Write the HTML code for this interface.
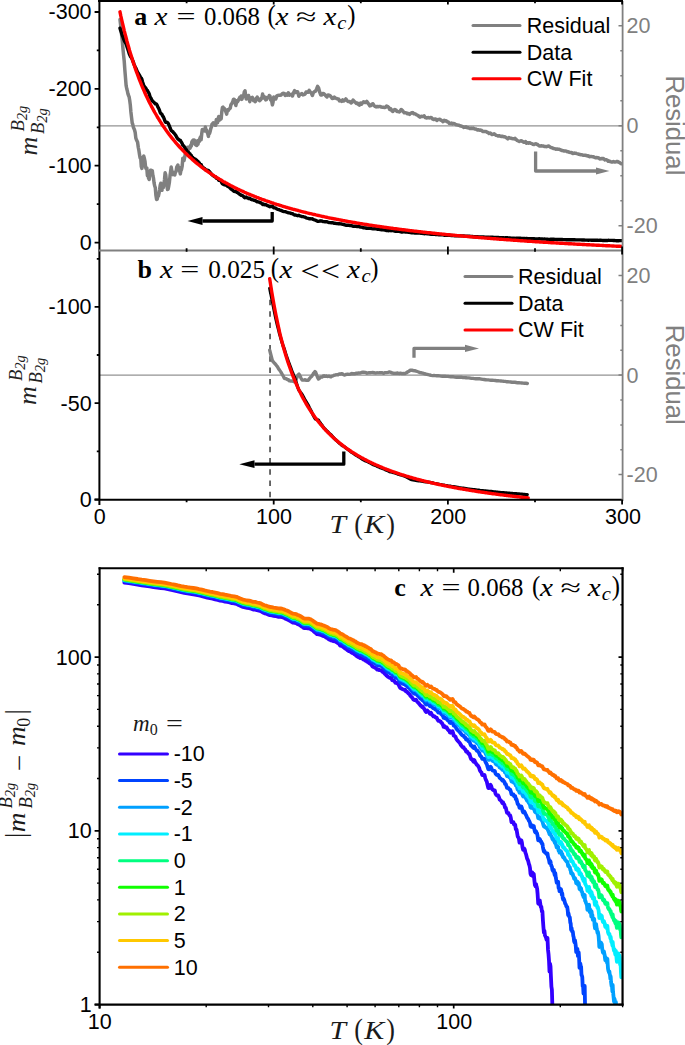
<!DOCTYPE html>
<html lang="en"><head><meta charset="utf-8"><title>Figure</title>
<style>html,body{margin:0;padding:0;background:#fff}svg{display:block}</style></head>
<body>
<svg width="685" height="1045" viewBox="0 0 685 1045">
<rect width="685" height="1045" fill="#fff"/>
<defs><clipPath id="ca"><rect x="99" y="0" width="524" height="251"/></clipPath><clipPath id="cb"><rect x="99" y="250" width="524" height="250"/></clipPath><clipPath id="cc"><rect x="99" y="568" width="524" height="437"/></clipPath></defs>
<g clip-path="url(#ca)" fill="none" stroke-linejoin="round" stroke-linecap="round">
<path d="M99,125.8 H623" stroke="#808080" stroke-width="1.3" opacity="0.85"/>
<path d="M120.0,19.6 L120.6,24.8 L121.2,30.5 L121.8,36.5 L122.4,42.0 L123.0,49.1 L123.6,55.4 L124.2,60.9 L124.8,69.4 L125.5,77.9 L126.1,85.4 L126.7,88.5 L127.3,90.7 L127.9,93.6 L128.5,95.5 L129.1,96.8 L129.7,100.2 L130.3,104.9 L130.9,112.0 L131.6,117.9 L132.2,123.0 L132.8,124.5 L133.4,127.5 L134.0,128.6 L134.6,130.2 L135.2,132.5 L135.8,137.9 L136.4,139.7 L137.0,140.9 L137.6,142.3 L138.3,147.5 L138.9,150.4 L139.5,154.4 L140.1,157.9 L140.7,157.6 L141.3,166.5 L141.9,168.4 L142.5,161.9 L143.1,159.9 L143.7,155.9 L144.4,158.5 L145.0,161.3 L145.6,167.4 L146.2,169.0 L146.8,168.0 L147.4,175.5 L148.0,175.4 L148.6,178.3 L149.2,179.5 L149.8,172.3 L150.5,170.2 L151.1,172.9 L151.7,170.6 L152.3,170.7 L152.9,175.7 L153.5,178.2 L154.1,183.1 L154.7,186.0 L155.3,187.6 L155.9,195.3 L156.6,199.5 L157.2,199.2 L157.8,195.9 L158.4,196.0 L159.0,193.4 L159.6,189.8 L160.2,185.3 L160.8,183.3 L161.4,188.4 L162.0,190.3 L162.6,185.8 L163.3,187.7 L163.9,184.0 L164.5,179.7 L165.1,172.8 L165.7,174.5 L166.3,180.1 L166.9,185.1 L167.5,189.4 L168.1,189.1 L168.7,186.3 L169.4,182.2 L170.0,176.1 L170.6,171.5 L171.2,166.9 L171.8,170.7 L172.4,171.9 L173.0,174.6 L173.6,173.3 L174.2,174.6 L174.8,174.9 L175.5,171.8 L176.1,171.5 L176.7,167.2 L177.3,166.3 L177.9,165.1 L178.5,169.0 L179.1,167.3 L179.7,171.1 L180.3,173.9 L180.9,170.5 L181.5,169.5 L182.2,165.8 L182.8,158.2 L183.4,160.5 L184.0,160.6 L184.6,157.7 L185.2,154.5 L185.8,153.5 L186.4,152.2 L187.0,149.1 L187.6,147.4 L188.3,149.7 L188.9,148.3 L189.5,146.8 L190.1,148.1 L190.7,145.3 L191.3,146.1 L191.9,141.8 L192.5,140.9 L193.1,140.2 L193.7,141.1 L194.4,140.2 L195.0,144.2 L195.6,144.8 L196.2,141.5 L196.8,145.6 L197.4,140.8 L198.0,144.2 L198.6,140.2 L199.2,141.7 L199.8,138.7 L200.4,137.1 L201.1,139.7 L201.7,134.0 L202.3,129.6 L202.9,130.1 L203.5,130.4 L204.1,129.8 L204.7,130.9 L205.3,126.9 L205.9,129.4 L206.5,130.0 L207.2,132.4 L207.8,133.8 L208.4,136.4 L209.0,132.3 L209.6,133.4 L210.2,131.2 L210.8,128.5 L211.4,127.1 L212.0,124.1 L212.6,123.7 L213.3,122.7 L213.9,123.0 L214.5,122.9 L215.1,125.2 L215.7,125.2 L216.3,119.6 L216.9,121.1 L217.5,122.7 L218.1,120.4 L218.7,116.4 L219.3,120.2 L220.0,119.6 L220.6,119.1 L221.2,118.7 L221.8,111.7 L222.4,107.7 L223.0,107.2 L223.6,109.3 L224.2,108.2 L224.8,109.9 L225.4,110.4 L226.1,112.5 L226.7,114.1 L227.3,109.7 L227.9,111.0 L228.5,110.2 L229.1,109.2 L229.7,108.7 L230.3,108.0 L230.9,104.7 L231.5,104.1 L232.2,102.8 L232.8,101.7 L233.4,99.4 L234.0,99.2 L234.6,99.9 L235.2,102.3 L235.8,105.5 L236.4,102.8 L237.0,100.9 L237.6,101.6 L238.3,100.4 L238.9,99.1 L239.5,98.0 L240.1,97.0 L240.7,98.9 L241.3,96.0 L241.9,99.4 L242.5,97.2 L243.1,96.4 L243.7,95.0 L244.3,92.0 L245.0,90.8 L245.6,95.3 L246.2,99.0 L246.8,96.5 L247.4,98.4 L248.0,97.6 L248.6,95.5 L249.2,98.9 L249.8,101.7 L250.4,99.1 L251.1,98.0 L251.7,97.8 L252.3,97.3 L252.9,98.6 L253.5,100.6 L254.1,99.3 L254.7,100.1 L255.3,101.7 L255.9,98.9 L256.5,98.3 L257.2,97.1 L257.8,98.9 L258.4,99.3 L259.0,100.3 L259.6,100.6 L260.2,99.0 L260.8,99.7 L261.4,98.2 L262.0,97.4 L262.6,94.0 L263.2,97.9 L263.9,96.3 L264.5,97.1 L265.1,97.4 L265.7,99.9 L266.3,99.7 L266.9,97.5 L267.5,97.5 L268.1,97.3 L268.7,97.7 L269.3,95.5 L270.0,96.1 L270.6,100.0 L271.2,99.8 L271.8,101.7 L272.4,104.9 L273.0,102.4 L273.6,97.8 L273.7,97.1 L274.7,98.6 L275.8,99.0 L276.8,95.8 L277.9,95.4 L278.9,95.3 L280.0,95.3 L281.0,95.1 L282.1,93.8 L283.1,93.3 L284.2,93.4 L285.2,95.4 L286.2,94.1 L287.3,95.1 L288.3,92.9 L289.4,95.1 L290.4,94.7 L291.5,94.3 L292.5,96.0 L293.6,92.5 L294.6,90.7 L295.6,92.5 L296.7,91.7 L297.7,91.8 L298.8,96.2 L299.8,94.6 L300.9,94.1 L301.9,93.6 L303.0,94.9 L304.0,94.5 L305.1,94.1 L306.1,92.0 L307.1,91.9 L308.2,92.3 L309.2,90.4 L310.3,92.1 L311.3,93.0 L312.4,95.5 L313.4,92.5 L314.5,91.6 L315.5,91.1 L316.6,89.0 L317.6,86.4 L318.6,88.0 L319.7,92.2 L320.7,94.9 L321.8,95.0 L322.8,93.4 L323.9,93.7 L324.9,94.7 L326.0,96.0 L327.0,97.0 L328.1,94.9 L329.1,95.1 L330.1,95.8 L331.2,96.9 L332.2,98.5 L333.3,98.3 L334.3,97.1 L335.4,98.0 L336.4,98.5 L337.5,98.9 L338.5,98.9 L339.5,100.9 L340.6,100.7 L341.6,101.4 L342.7,99.9 L343.7,101.0 L344.8,100.3 L345.8,98.9 L346.9,100.3 L347.9,101.5 L349.0,101.5 L350.0,101.8 L351.0,103.0 L352.1,102.2 L353.1,100.1 L354.2,101.4 L355.2,102.1 L356.3,103.5 L357.3,103.0 L358.4,104.3 L359.4,105.1 L360.5,103.1 L361.5,104.2 L362.5,102.9 L363.6,101.7 L364.6,102.4 L365.7,102.5 L366.7,101.4 L367.8,102.9 L368.8,104.3 L369.9,105.9 L370.9,105.6 L371.9,104.1 L373.0,103.8 L374.0,105.5 L375.1,106.5 L376.1,106.9 L377.2,106.4 L378.2,106.7 L379.3,106.6 L380.3,106.5 L381.4,107.1 L382.4,107.3 L383.4,107.2 L384.5,107.6 L385.5,107.3 L386.6,106.0 L387.6,106.5 L388.7,107.3 L389.7,109.4 L390.8,108.9 L391.8,110.8 L392.9,111.5 L393.9,110.1 L394.9,109.5 L396.0,110.0 L397.0,111.6 L398.1,111.6 L399.1,111.9 L400.2,111.2 L401.2,109.5 L402.3,110.3 L403.3,111.6 L404.3,112.8 L405.4,112.7 L406.4,112.9 L407.5,113.8 L408.5,113.5 L409.6,114.4 L410.6,113.3 L411.7,112.8 L412.7,112.6 L413.8,113.7 L414.8,113.7 L415.8,114.3 L416.9,115.0 L417.9,115.4 L419.0,116.4 L420.0,117.2 L421.1,116.3 L422.1,116.5 L423.2,116.4 L424.2,115.9 L425.3,117.6 L426.3,118.0 L427.3,117.7 L428.4,117.6 L429.4,118.0 L430.5,117.5 L431.5,117.8 L432.6,119.0 L433.6,119.6 L434.7,119.0 L435.7,119.0 L436.8,120.5 L437.8,119.6 L438.8,119.6 L439.9,119.2 L440.9,120.1 L442.0,120.7 L443.0,121.6 L444.1,120.3 L445.1,121.0 L446.2,120.7 L447.2,121.7 L448.2,122.0 L449.3,123.3 L450.3,123.5 L451.4,123.0 L452.4,123.9 L453.5,123.4 L454.5,123.6 L455.6,124.5 L456.6,124.8 L457.7,125.1 L458.7,125.2 L459.7,125.6 L460.8,126.1 L461.8,126.2 L462.9,126.8 L463.9,127.4 L465.0,127.2 L466.0,126.7 L467.1,127.7 L468.1,127.7 L469.2,128.1 L470.2,128.6 L471.2,128.1 L472.3,128.6 L473.3,128.0 L474.4,128.9 L475.4,128.9 L476.5,129.4 L477.5,130.0 L478.6,129.8 L479.6,130.2 L480.6,130.1 L481.7,130.5 L482.7,131.4 L483.8,131.5 L484.8,131.6 L485.9,131.4 L486.9,132.2 L488.0,132.4 L489.0,133.5 L490.1,133.0 L491.1,133.7 L492.1,134.6 L493.2,134.4 L494.2,133.8 L495.3,134.8 L496.3,135.4 L497.4,135.6 L498.4,136.1 L499.5,135.7 L500.5,136.2 L501.6,136.5 L502.6,136.2 L503.6,136.8 L504.7,136.7 L505.7,137.4 L506.8,138.0 L507.8,138.8 L508.9,137.6 L509.9,138.1 L511.0,138.2 L512.0,138.5 L513.1,138.7 L514.1,138.9 L515.1,138.4 L516.2,139.5 L517.2,140.5 L518.3,141.0 L519.3,141.5 L520.4,141.0 L521.4,140.7 L522.5,141.4 L523.5,142.2 L524.5,142.2 L525.6,141.6 L526.6,143.2 L527.7,142.7 L528.7,143.2 L529.8,142.7 L530.8,143.4 L531.9,143.6 L532.9,144.3 L534.0,144.6 L535.0,143.9 L536.0,143.8 L537.1,144.3 L538.1,145.0 L539.2,145.9 L540.2,145.9 L541.3,145.8 L542.3,145.9 L543.4,146.0 L544.4,146.6 L545.5,146.6 L546.5,146.7 L547.5,146.3 L548.6,145.9 L549.6,146.6 L550.7,147.4 L551.7,147.7 L552.8,148.1 L553.8,148.6 L554.9,148.7 L555.9,149.2 L556.9,148.9 L558.0,149.2 L559.0,149.3 L560.1,149.6 L561.1,150.1 L562.2,150.6 L563.2,150.7 L564.3,151.0 L565.3,150.9 L566.4,151.1 L567.4,151.8 L568.4,151.8 L569.5,152.4 L570.5,152.6 L571.6,152.6 L572.6,153.5 L573.7,153.2 L574.7,153.1 L575.8,153.3 L576.8,153.6 L577.9,153.9 L578.9,154.3 L579.9,154.5 L581.0,154.7 L582.0,154.7 L583.1,155.3 L584.1,155.2 L585.2,155.3 L586.2,155.5 L587.3,155.9 L588.3,155.8 L589.4,156.7 L590.4,156.5 L591.4,156.6 L592.5,156.7 L593.5,156.8 L594.6,157.4 L595.6,157.7 L596.7,157.6 L597.7,157.7 L598.8,158.0 L599.8,158.9 L600.8,158.8 L601.9,158.5 L602.9,158.5 L604.0,158.9 L605.0,159.9 L606.1,159.7 L607.1,160.1 L608.2,161.2 L609.2,161.0 L610.3,161.6 L611.3,162.0 L612.3,162.1 L613.4,161.5 L614.4,161.9 L615.5,162.0 L616.5,161.6 L617.6,161.5 L618.6,162.2 L619.7,162.7 L620.7,163.5 L621.8,163.8" stroke="#808080" stroke-width="3.5"/>
<path d="M120.0,28.2 L120.6,30.2 L121.2,32.1 L121.8,33.9 L122.4,35.7 L123.0,37.2 L123.6,38.8 L124.2,40.5 L124.8,41.6 L125.5,42.7 L126.1,43.9 L126.7,45.7 L127.3,47.7 L127.9,49.4 L128.5,51.3 L129.1,53.3 L129.7,54.8 L130.3,56.2 L130.9,57.1 L131.6,58.1 L132.2,59.3 L132.8,61.0 L133.4,62.4 L134.0,64.1 L134.6,65.6 L135.2,67.1 L135.8,68.0 L136.4,69.4 L137.0,70.9 L137.6,72.4 L138.3,73.2 L138.9,74.4 L139.5,75.3 L140.1,76.4 L140.7,77.9 L141.3,78.1 L141.9,79.3 L142.5,81.7 L143.1,83.5 L143.7,85.5 L144.4,86.5 L145.0,87.4 L145.6,87.9 L146.2,88.9 L146.8,90.4 L147.4,90.5 L148.0,91.8 L148.6,92.6 L149.2,93.7 L149.8,96.0 L150.5,97.6 L151.1,98.3 L151.7,99.8 L152.3,101.0 L152.9,101.3 L153.5,102.1 L154.1,102.4 L154.7,103.1 L155.3,103.9 L155.9,103.8 L156.6,104.2 L157.2,105.3 L157.8,106.8 L158.4,107.8 L159.0,109.2 L159.6,110.7 L160.2,112.4 L160.8,113.6 L161.4,113.8 L162.0,114.4 L162.6,116.0 L163.3,116.7 L163.9,118.1 L164.5,119.7 L165.1,121.6 L165.7,122.2 L166.3,122.2 L166.9,122.3 L167.5,122.5 L168.1,123.3 L168.7,124.6 L169.4,126.0 L170.0,127.7 L170.6,129.2 L171.2,130.7 L171.8,130.9 L172.4,131.5 L173.0,131.8 L173.6,132.8 L174.2,133.3 L174.8,134.0 L175.5,135.2 L176.1,135.9 L176.7,137.3 L177.3,138.1 L177.9,139.0 L178.5,139.1 L179.1,140.0 L179.7,140.1 L180.3,140.3 L180.9,141.5 L181.5,142.3 L182.2,143.5 L182.8,145.3 L183.4,145.6 L184.0,146.2 L184.6,147.3 L185.2,148.4 L185.8,149.1 L186.4,149.9 L187.0,151.0 L187.6,151.8 L188.3,152.1 L188.9,152.8 L189.5,153.6 L190.1,154.0 L190.7,155.0 L191.3,155.4 L191.9,156.6 L192.5,157.3 L193.1,157.9 L193.7,158.3 L194.4,159.0 L195.0,158.9 L195.6,159.3 L196.2,160.3 L196.8,160.2 L197.4,161.4 L198.0,161.4 L198.6,162.5 L199.2,162.8 L199.8,163.7 L200.4,164.5 L201.1,164.5 L201.7,165.9 L202.3,167.0 L202.9,167.4 L203.5,167.8 L204.1,168.4 L204.7,168.6 L205.3,169.7 L205.9,169.8 L206.5,170.1 L207.2,170.2 L207.8,170.4 L208.4,170.4 L209.0,171.5 L209.6,171.7 L210.2,172.5 L210.8,173.3 L211.4,173.9 L212.0,174.8 L212.6,175.2 L213.3,175.8 L213.9,176.2 L214.5,176.6 L215.1,176.6 L215.7,177.0 L216.3,178.2 L216.9,178.4 L217.5,178.5 L218.1,179.2 L218.7,180.2 L219.3,180.0 L220.0,180.5 L220.6,180.9 L221.2,181.3 L221.8,182.8 L222.4,183.7 L223.0,184.2 L223.6,184.2 L224.2,184.7 L224.8,184.8 L225.4,185.1 L226.1,185.1 L226.7,185.2 L227.3,186.2 L227.9,186.3 L228.5,186.7 L229.1,187.2 L229.7,187.6 L230.3,188.1 L230.9,188.9 L231.5,189.3 L232.2,189.8 L232.8,190.3 L233.4,190.9 L234.0,191.3 L234.6,191.5 L235.2,191.4 L235.8,191.2 L236.4,191.9 L237.0,192.5 L237.6,192.7 L238.3,193.2 L238.9,193.7 L239.5,194.1 L240.1,194.6 L240.7,194.6 L241.3,195.3 L241.9,195.1 L242.5,195.7 L243.1,196.1 L243.7,196.6 L244.3,197.3 L245.0,197.8 L245.6,197.3 L246.2,197.0 L246.8,197.7 L247.4,197.7 L248.0,198.0 L248.6,198.6 L249.2,198.4 L249.8,198.2 L250.4,198.8 L251.1,199.3 L251.7,199.5 L252.3,199.9 L252.9,199.9 L253.5,199.9 L254.1,200.3 L254.7,200.4 L255.3,200.4 L255.9,201.1 L256.5,201.4 L257.2,201.9 L257.8,201.8 L258.4,202.0 L259.0,202.1 L259.6,202.2 L260.2,202.7 L260.8,202.8 L261.4,203.3 L262.0,203.7 L262.6,204.4 L263.2,204.0 L263.9,204.5 L264.5,204.6 L265.1,204.8 L265.7,204.6 L266.3,204.8 L266.9,205.4 L267.5,205.6 L268.1,205.9 L268.7,206.0 L269.3,206.6 L270.0,206.7 L270.6,206.3 L271.2,206.5 L271.8,206.4 L272.4,206.1 L273.0,206.7 L273.6,207.6 L273.7,207.8 L274.7,207.9 L275.8,208.2 L276.8,209.0 L277.9,209.4 L278.9,209.7 L280.0,210.1 L281.0,210.4 L282.1,210.9 L283.1,211.3 L284.2,211.6 L285.2,211.6 L286.2,212.1 L287.3,212.3 L288.3,212.9 L289.4,212.9 L290.4,213.2 L291.5,213.6 L292.5,213.6 L293.6,214.5 L294.6,215.0 L295.6,215.0 L296.7,215.4 L297.7,215.7 L298.8,215.3 L299.8,215.8 L300.9,216.2 L301.9,216.5 L303.0,216.6 L304.0,216.9 L305.1,217.2 L306.1,217.8 L307.1,218.1 L308.2,218.3 L309.2,218.8 L310.3,218.8 L311.3,218.9 L312.4,218.8 L313.4,219.5 L314.5,219.9 L315.5,220.2 L316.6,220.8 L317.6,221.4 L318.6,221.4 L319.7,221.0 L320.7,220.8 L321.8,221.0 L322.8,221.5 L323.9,221.6 L324.9,221.7 L326.0,221.7 L327.0,221.8 L328.1,222.3 L329.1,222.5 L330.1,222.6 L331.2,222.7 L332.2,222.6 L333.3,222.9 L334.3,223.3 L335.4,223.3 L336.4,223.5 L337.5,223.6 L338.5,223.8 L339.5,223.7 L340.6,223.9 L341.6,224.0 L342.7,224.4 L343.7,224.5 L344.8,224.8 L345.8,225.2 L346.9,225.2 L347.9,225.2 L349.0,225.3 L350.0,225.5 L351.0,225.5 L352.1,225.8 L353.1,226.3 L354.2,226.3 L355.2,226.3 L356.3,226.3 L357.3,226.6 L358.4,226.5 L359.4,226.6 L360.5,227.1 L361.5,227.1 L362.5,227.4 L363.6,227.8 L364.6,227.9 L365.7,228.0 L366.7,228.3 L367.8,228.3 L368.8,228.2 L369.9,228.1 L370.9,228.3 L371.9,228.7 L373.0,228.9 L374.0,228.8 L375.1,228.8 L376.1,228.9 L377.2,229.2 L378.2,229.3 L379.3,229.4 L380.3,229.6 L381.4,229.7 L382.4,229.8 L383.4,229.9 L384.5,230.0 L385.5,230.2 L386.6,230.6 L387.6,230.6 L388.7,230.7 L389.7,230.5 L390.8,230.7 L391.8,230.6 L392.9,230.6 L393.9,230.9 L394.9,231.2 L396.0,231.2 L397.0,231.1 L398.1,231.3 L399.1,231.3 L400.2,231.6 L401.2,232.0 L402.3,232.0 L403.3,231.9 L404.3,231.9 L405.4,232.0 L406.4,232.1 L407.5,232.1 L408.5,232.3 L409.6,232.3 L410.6,232.6 L411.7,232.8 L412.7,232.9 L413.8,232.9 L414.8,233.0 L415.8,233.0 L416.9,233.0 L417.9,233.1 L419.0,233.1 L420.0,233.1 L421.1,233.3 L422.1,233.4 L423.2,233.5 L424.2,233.7 L425.3,233.6 L426.3,233.6 L427.3,233.8 L428.4,233.9 L429.4,234.0 L430.5,234.2 L431.5,234.2 L432.6,234.2 L433.6,234.2 L434.7,234.4 L435.7,234.5 L436.8,234.4 L437.8,234.6 L438.8,234.7 L439.9,234.9 L440.9,234.9 L442.0,234.9 L443.0,234.8 L444.1,235.2 L445.1,235.1 L446.2,235.3 L447.2,235.2 L448.2,235.3 L449.3,235.2 L450.3,235.3 L451.4,235.5 L452.4,235.4 L453.5,235.6 L454.5,235.7 L455.6,235.6 L456.6,235.7 L457.7,235.7 L458.7,235.8 L459.7,235.8 L460.8,235.9 L461.8,235.9 L462.9,235.9 L463.9,236.0 L465.0,236.1 L466.0,236.2 L467.1,236.2 L468.1,236.3 L469.2,236.3 L470.2,236.3 L471.2,236.5 L472.3,236.5 L473.3,236.7 L474.4,236.6 L475.4,236.7 L476.5,236.7 L477.5,236.7 L478.6,236.9 L479.6,236.9 L480.6,237.0 L481.7,237.0 L482.7,237.0 L483.8,237.0 L484.8,237.1 L485.9,237.2 L486.9,237.2 L488.0,237.2 L489.0,237.1 L490.1,237.3 L491.1,237.3 L492.1,237.2 L493.2,237.3 L494.2,237.5 L495.3,237.4 L496.3,237.4 L497.4,237.5 L498.4,237.5 L499.5,237.6 L500.5,237.6 L501.6,237.7 L502.6,237.8 L503.6,237.8 L504.7,237.9 L505.7,237.8 L506.8,237.8 L507.8,237.8 L508.9,238.0 L509.9,238.0 L511.0,238.1 L512.0,238.1 L513.1,238.2 L514.1,238.2 L515.1,238.4 L516.2,238.3 L517.2,238.2 L518.3,238.2 L519.3,238.2 L520.4,238.3 L521.4,238.4 L522.5,238.4 L523.5,238.4 L524.5,238.4 L525.6,238.6 L526.6,238.4 L527.7,238.6 L528.7,238.6 L529.8,238.7 L530.8,238.7 L531.9,238.7 L532.9,238.7 L534.0,238.7 L535.0,238.9 L536.0,239.0 L537.1,238.9 L538.1,238.9 L539.2,238.8 L540.2,238.9 L541.3,239.0 L542.3,239.0 L543.4,239.1 L544.4,239.0 L545.5,239.1 L546.5,239.2 L547.5,239.3 L548.6,239.4 L549.6,239.4 L550.7,239.3 L551.7,239.3 L552.8,239.3 L553.8,239.3 L554.9,239.4 L555.9,239.4 L556.9,239.5 L558.0,239.5 L559.0,239.5 L560.1,239.5 L561.1,239.5 L562.2,239.5 L563.2,239.6 L564.3,239.6 L565.3,239.6 L566.4,239.7 L567.4,239.6 L568.4,239.7 L569.5,239.7 L570.5,239.7 L571.6,239.7 L572.6,239.7 L573.7,239.8 L574.7,239.8 L575.8,239.9 L576.8,239.9 L577.9,239.9 L578.9,239.9 L579.9,239.9 L581.0,239.9 L582.0,240.0 L583.1,239.9 L584.1,240.0 L585.2,240.1 L586.2,240.1 L587.3,240.1 L588.3,240.2 L589.4,240.1 L590.4,240.1 L591.4,240.2 L592.5,240.2 L593.5,240.3 L594.6,240.2 L595.6,240.2 L596.7,240.3 L597.7,240.3 L598.8,240.4 L599.8,240.3 L600.8,240.3 L601.9,240.4 L602.9,240.5 L604.0,240.5 L605.0,240.4 L606.1,240.5 L607.1,240.5 L608.2,240.3 L609.2,240.4 L610.3,240.4 L611.3,240.4 L612.3,240.4 L613.4,240.5 L614.4,240.5 L615.5,240.6 L616.5,240.7 L617.6,240.7 L618.6,240.7 L619.7,240.6 L620.7,240.6 L621.8,240.6" stroke="#000" stroke-width="3.4"/>
<path d="M120.0,11.8 L120.8,15.9 L121.7,19.8 L122.6,23.6 L123.5,27.3 L124.3,30.8 L125.2,34.3 L126.1,37.7 L126.9,41.0 L127.8,44.2 L128.7,47.3 L129.5,50.3 L130.4,53.2 L131.3,56.1 L132.2,58.9 L133.0,61.6 L133.9,64.2 L134.8,66.8 L135.6,69.4 L136.5,71.8 L137.4,74.2 L138.3,76.6 L139.1,78.8 L140.0,81.1 L140.9,83.3 L141.7,85.4 L142.6,87.5 L143.5,89.5 L144.4,91.5 L145.2,93.5 L146.1,95.4 L147.0,97.3 L147.8,99.1 L148.7,100.9 L149.6,102.7 L150.5,104.4 L151.3,106.1 L152.2,107.7 L153.1,109.3 L153.9,110.9 L154.8,112.5 L155.7,114.0 L156.6,115.5 L157.4,117.0 L158.3,118.4 L159.2,119.8 L160.0,121.2 L160.9,122.6 L161.8,124.0 L162.6,125.3 L163.5,126.6 L164.4,127.8 L165.3,129.1 L166.1,130.3 L167.0,131.5 L167.9,132.7 L168.7,133.9 L169.6,135.0 L170.5,136.2 L171.4,137.3 L172.2,138.4 L173.1,139.4 L174.0,140.5 L174.8,141.5 L175.7,142.6 L176.6,143.6 L177.5,144.6 L178.3,145.5 L179.2,146.5 L180.1,147.5 L180.9,148.4 L181.8,149.3 L182.7,150.2 L183.6,151.1 L184.4,152.0 L185.3,152.9 L186.2,153.7 L187.0,154.6 L187.9,155.4 L188.8,156.2 L189.6,157.0 L190.5,157.8 L191.4,158.6 L192.3,159.4 L193.1,160.2 L194.0,160.9 L194.9,161.7 L195.7,162.4 L196.6,163.1 L197.5,163.8 L198.4,164.5 L199.2,165.2 L200.1,165.9 L201.0,166.6 L201.8,167.3 L202.7,167.9 L203.6,168.6 L204.5,169.2 L205.3,169.9 L206.2,170.5 L207.1,171.1 L207.9,171.7 L208.8,172.3 L209.7,172.9 L210.6,173.5 L211.4,174.1 L212.3,174.7 L213.2,175.3 L214.0,175.8 L214.9,176.4 L215.8,177.0 L216.6,177.5 L217.5,178.0 L218.4,178.6 L219.3,179.1 L220.1,179.6 L221.0,180.1 L221.9,180.6 L222.7,181.2 L223.6,181.7 L224.5,182.1 L225.4,182.6 L226.2,183.1 L227.1,183.6 L228.0,184.1 L228.8,184.5 L229.7,185.0 L230.6,185.5 L231.5,185.9 L232.3,186.4 L233.2,186.8 L234.1,187.2 L234.9,187.7 L235.8,188.1 L236.7,188.5 L237.6,189.0 L238.4,189.4 L239.3,189.8 L240.2,190.2 L241.0,190.6 L241.9,191.0 L242.8,191.4 L243.7,191.8 L244.5,192.2 L245.4,192.6 L246.3,193.0 L247.1,193.3 L248.0,193.7 L248.9,194.1 L249.7,194.4 L250.6,194.8 L251.5,195.2 L252.4,195.5 L253.2,195.9 L254.1,196.2 L255.0,196.6 L255.8,196.9 L256.7,197.3 L257.6,197.6 L258.5,197.9 L259.3,198.3 L260.2,198.6 L261.1,198.9 L261.9,199.3 L262.8,199.6 L263.7,199.9 L264.6,200.2 L265.4,200.5 L266.3,200.8 L267.2,201.1 L268.0,201.4 L268.9,201.7 L269.8,202.0 L270.7,202.3 L271.5,202.6 L272.4,202.9 L273.3,203.2 L274.1,203.5 L275.0,203.8 L275.9,204.1 L276.7,204.4 L277.6,204.6 L278.5,204.9 L279.4,205.2 L280.2,205.5 L281.1,205.7 L282.0,206.0 L282.8,206.3 L283.7,206.5 L284.6,206.8 L285.5,207.0 L286.3,207.3 L287.2,207.5 L288.1,207.8 L288.9,208.0 L289.8,208.3 L290.7,208.5 L291.6,208.8 L292.4,209.0 L293.3,209.3 L294.2,209.5 L295.0,209.7 L295.9,210.0 L296.8,210.2 L297.7,210.4 L298.5,210.7 L299.4,210.9 L300.3,211.1 L301.1,211.4 L302.0,211.6 L302.9,211.8 L303.7,212.0 L304.6,212.2 L305.5,212.5 L306.4,212.7 L307.2,212.9 L308.1,213.1 L309.0,213.3 L309.8,213.5 L310.7,213.7 L311.6,213.9 L312.5,214.1 L313.3,214.3 L314.2,214.5 L315.1,214.7 L315.9,214.9 L316.8,215.1 L317.7,215.3 L318.6,215.5 L319.4,215.7 L320.3,215.9 L321.2,216.1 L322.0,216.3 L322.9,216.5 L323.8,216.7 L324.7,216.9 L325.5,217.1 L326.4,217.2 L327.3,217.4 L328.1,217.6 L329.0,217.8 L329.9,218.0 L330.8,218.1 L331.6,218.3 L332.5,218.5 L333.4,218.7 L334.2,218.8 L335.1,219.0 L336.0,219.2 L336.8,219.4 L337.7,219.5 L338.6,219.7 L339.5,219.9 L340.3,220.0 L341.2,220.2 L342.1,220.3 L342.9,220.5 L343.8,220.7 L344.7,220.8 L345.6,221.0 L346.4,221.2 L347.3,221.3 L348.2,221.5 L349.0,221.6 L349.9,221.8 L350.8,221.9 L351.7,222.1 L352.5,222.2 L353.4,222.4 L354.3,222.5 L355.1,222.7 L356.0,222.8 L356.9,223.0 L357.8,223.1 L358.6,223.3 L359.5,223.4 L360.4,223.6 L361.2,223.7 L362.1,223.8 L363.0,224.0 L363.8,224.1 L364.7,224.3 L365.6,224.4 L366.5,224.5 L367.3,224.7 L368.2,224.8 L369.1,225.0 L369.9,225.1 L370.8,225.2 L371.7,225.4 L372.6,225.5 L373.4,225.6 L374.3,225.8 L375.2,225.9 L376.0,226.0 L376.9,226.1 L377.8,226.3 L378.7,226.4 L379.5,226.5 L380.4,226.7 L381.3,226.8 L382.1,226.9 L383.0,227.0 L383.9,227.1 L384.8,227.3 L385.6,227.4 L386.5,227.5 L387.4,227.6 L388.2,227.8 L389.1,227.9 L390.0,228.0 L390.8,228.1 L391.7,228.2 L392.6,228.3 L393.5,228.5 L394.3,228.6 L395.2,228.7 L396.1,228.8 L396.9,228.9 L397.8,229.0 L398.7,229.1 L399.6,229.3 L400.4,229.4 L401.3,229.5 L402.2,229.6 L403.0,229.7 L403.9,229.8 L404.8,229.9 L405.7,230.0 L406.5,230.1 L407.4,230.2 L408.3,230.4 L409.1,230.5 L410.0,230.6 L410.9,230.7 L411.8,230.8 L412.6,230.9 L413.5,231.0 L414.4,231.1 L415.2,231.2 L416.1,231.3 L417.0,231.4 L417.9,231.5 L418.7,231.6 L419.6,231.7 L420.5,231.8 L421.3,231.9 L422.2,232.0 L423.1,232.1 L423.9,232.2 L424.8,232.3 L425.7,232.4 L426.6,232.5 L427.4,232.6 L428.3,232.7 L429.2,232.8 L430.0,232.8 L430.9,232.9 L431.8,233.0 L432.7,233.1 L433.5,233.2 L434.4,233.3 L435.3,233.4 L436.1,233.5 L437.0,233.6 L437.9,233.7 L438.8,233.8 L439.6,233.9 L440.5,233.9 L441.4,234.0 L442.2,234.1 L443.1,234.2 L444.0,234.3 L444.9,234.4 L445.7,234.5 L446.6,234.6 L447.5,234.6 L448.3,234.7 L449.2,234.8 L450.1,234.9 L450.9,235.0 L451.8,235.1 L452.7,235.1 L453.6,235.2 L454.4,235.3 L455.3,235.4 L456.2,235.5 L457.0,235.6 L457.9,235.6 L458.8,235.7 L459.7,235.8 L460.5,235.9 L461.4,236.0 L462.3,236.0 L463.1,236.1 L464.0,236.2 L464.9,236.3 L465.8,236.4 L466.6,236.4 L467.5,236.5 L468.4,236.6 L469.2,236.7 L470.1,236.7 L471.0,236.8 L471.9,236.9 L472.7,237.0 L473.6,237.0 L474.5,237.1 L475.3,237.2 L476.2,237.3 L477.1,237.3 L477.9,237.4 L478.8,237.5 L479.7,237.6 L480.6,237.6 L481.4,237.7 L482.3,237.8 L483.2,237.9 L484.0,237.9 L484.9,238.0 L485.8,238.1 L486.7,238.1 L487.5,238.2 L488.4,238.3 L489.3,238.3 L490.1,238.4 L491.0,238.5 L491.9,238.6 L492.8,238.6 L493.6,238.7 L494.5,238.8 L495.4,238.8 L496.2,238.9 L497.1,239.0 L498.0,239.0 L498.9,239.1 L499.7,239.2 L500.6,239.2 L501.5,239.3 L502.3,239.4 L503.2,239.4 L504.1,239.5 L505.0,239.6 L505.8,239.6 L506.7,239.7 L507.6,239.7 L508.4,239.8 L509.3,239.9 L510.2,239.9 L511.0,240.0 L511.9,240.1 L512.8,240.1 L513.7,240.2 L514.5,240.3 L515.4,240.3 L516.3,240.4 L517.1,240.4 L518.0,240.5 L518.9,240.6 L519.8,240.6 L520.6,240.7 L521.5,240.7 L522.4,240.8 L523.2,240.9 L524.1,240.9 L525.0,241.0 L525.9,241.0 L526.7,241.1 L527.6,241.2 L528.5,241.2 L529.3,241.3 L530.2,241.3 L531.1,241.4 L532.0,241.4 L532.8,241.5 L533.7,241.6 L534.6,241.6 L535.4,241.7 L536.3,241.7 L537.2,241.8 L538.0,241.8 L538.9,241.9 L539.8,242.0 L540.7,242.0 L541.5,242.1 L542.4,242.1 L543.3,242.2 L544.1,242.2 L545.0,242.3 L545.9,242.3 L546.8,242.4 L547.6,242.4 L548.5,242.5 L549.4,242.6 L550.2,242.6 L551.1,242.7 L552.0,242.7 L552.9,242.8 L553.7,242.8 L554.6,242.9 L555.5,242.9 L556.3,243.0 L557.2,243.0 L558.1,243.1 L559.0,243.1 L559.8,243.2 L560.7,243.2 L561.6,243.3 L562.4,243.3 L563.3,243.4 L564.2,243.4 L565.0,243.5 L565.9,243.5 L566.8,243.6 L567.7,243.6 L568.5,243.7 L569.4,243.7 L570.3,243.8 L571.1,243.8 L572.0,243.9 L572.9,243.9 L573.8,244.0 L574.6,244.0 L575.5,244.1 L576.4,244.1 L577.2,244.2 L578.1,244.2 L579.0,244.3 L579.9,244.3 L580.7,244.4 L581.6,244.4 L582.5,244.5 L583.3,244.5 L584.2,244.5 L585.1,244.6 L586.0,244.6 L586.8,244.7 L587.7,244.7 L588.6,244.8 L589.4,244.8 L590.3,244.9 L591.2,244.9 L592.1,245.0 L592.9,245.0 L593.8,245.0 L594.7,245.1 L595.5,245.1 L596.4,245.2 L597.3,245.2 L598.1,245.3 L599.0,245.3 L599.9,245.4 L600.8,245.4 L601.6,245.4 L602.5,245.5 L603.4,245.5 L604.2,245.6 L605.1,245.6 L606.0,245.7 L606.9,245.7 L607.7,245.7 L608.6,245.8 L609.5,245.8 L610.3,245.9 L611.2,245.9 L612.1,246.0 L613.0,246.0 L613.8,246.0 L614.7,246.1 L615.6,246.1 L616.4,246.2 L617.3,246.2 L618.2,246.2 L619.1,246.3 L619.9,246.3 L620.8,246.4 L621.7,246.4 L622.5,246.5" stroke="#ff0000" stroke-width="3.4"/>
</g>
<g clip-path="url(#cb)" fill="none" stroke-linejoin="round" stroke-linecap="round">
<path d="M99,375.1 H623" stroke="#808080" stroke-width="1.3" opacity="0.85"/>
<path d="M270.05,497.3 V282" stroke="#5a5a5a" stroke-width="1.8" stroke-dasharray="5.5,5.79" stroke-linecap="butt"/>
<path d="M269.7,350.2 L270.4,353.0 L271.1,355.7 L271.8,358.4 L272.5,360.9 L273.2,361.8 L273.9,362.5 L274.6,363.3 L275.3,364.0 L276.0,364.9 L276.7,365.9 L277.4,366.7 L278.1,367.9 L278.8,369.2 L279.4,369.9 L280.1,370.9 L280.8,371.9 L281.5,373.2 L282.2,374.3 L282.9,375.5 L283.6,376.8 L284.3,378.2 L285.0,378.6 L285.7,378.6 L286.4,378.9 L287.1,379.4 L287.8,379.7 L288.5,379.8 L289.2,380.8 L289.9,380.9 L290.6,381.0 L291.3,381.1 L292.0,381.0 L292.7,381.1 L293.4,381.4 L294.1,381.7 L294.8,381.8 L295.5,380.6 L296.2,379.2 L296.9,377.6 L297.6,375.9 L298.3,374.7 L299.0,374.1 L299.7,375.5 L300.4,376.6 L301.0,378.2 L301.7,379.3 L302.4,380.1 L303.1,380.1 L303.8,380.1 L304.5,379.9 L305.2,379.7 L305.9,380.3 L306.6,380.4 L307.3,380.2 L308.0,380.3 L308.7,379.8 L309.4,378.6 L310.1,377.8 L310.8,377.0 L311.5,376.6 L312.2,375.5 L312.9,374.5 L313.6,373.1 L314.3,372.4 L315.0,371.5 L315.7,372.4 L316.4,374.5 L317.1,376.1 L317.8,377.9 L318.5,379.0 L319.2,378.4 L319.9,378.0 L320.6,377.2 L321.3,377.1 L322.0,377.1 L322.7,376.6 L323.3,376.0 L324.0,375.8 L324.7,376.2 L325.4,376.3 L326.1,375.9 L326.8,376.2 L327.5,376.5 L328.2,376.4 L328.9,376.1 L329.6,376.4 L330.3,376.7 L331.0,376.8 L331.7,376.1 L332.4,376.1 L333.1,375.8 L333.8,375.5 L334.5,375.1 L335.2,375.1 L335.9,374.8 L336.6,374.9 L337.3,374.8 L338.0,374.8 L338.7,374.1 L339.4,374.0 L340.1,374.1 L340.8,373.9 L341.5,373.7 L342.2,373.6 L342.9,374.3 L343.4,374.6 L344.8,375.0 L346.2,374.4 L347.6,374.2 L349.0,374.4 L350.3,374.1 L351.7,373.5 L353.1,373.8 L354.5,373.8 L355.9,373.3 L357.3,373.2 L358.7,373.0 L360.1,373.1 L361.5,372.4 L362.9,372.1 L364.3,372.3 L365.7,372.4 L367.1,373.2 L368.5,372.8 L369.9,372.8 L371.3,372.6 L372.6,372.5 L374.0,372.7 L375.4,373.1 L376.8,372.8 L378.2,372.9 L379.6,372.8 L381.0,372.8 L382.4,372.8 L383.8,373.3 L385.2,372.6 L386.6,372.6 L388.0,372.3 L389.4,371.9 L390.8,372.3 L392.2,373.1 L393.5,373.2 L394.9,373.4 L396.3,373.2 L397.7,373.0 L399.1,373.5 L400.5,373.2 L401.9,373.6 L403.3,373.5 L404.7,373.6 L406.1,373.0 L407.5,372.0 L408.9,371.2 L410.3,370.3 L411.7,370.1 L413.1,370.5 L414.5,370.7 L415.8,371.0 L417.2,371.5 L418.6,372.0 L420.0,372.6 L421.4,372.8 L422.8,373.2 L424.2,373.6 L425.6,374.0 L427.0,374.3 L428.4,374.7 L429.8,375.0 L431.2,375.4 L432.6,375.6 L434.0,375.5 L435.4,375.6 L436.8,375.8 L438.1,375.8 L439.5,375.9 L440.9,376.1 L442.3,376.2 L443.7,376.2 L445.1,376.3 L446.5,376.4 L447.9,376.4 L449.3,376.6 L450.7,376.7 L452.1,376.8 L453.5,376.8 L454.9,377.1 L456.3,377.2 L457.7,377.3 L459.0,377.3 L460.4,377.3 L461.8,377.3 L463.2,377.6 L464.6,377.6 L466.0,377.7 L467.4,377.9 L468.8,377.9 L470.2,378.1 L471.6,378.4 L473.0,378.4 L474.4,378.6 L475.8,378.7 L477.2,378.8 L478.6,378.8 L480.0,378.8 L481.3,379.1 L482.7,379.4 L484.1,379.5 L485.5,379.7 L486.9,379.9 L488.3,379.9 L489.7,380.1 L491.1,380.3 L492.5,380.3 L493.9,380.4 L495.3,380.5 L496.7,380.7 L498.1,380.8 L499.5,380.9 L500.9,381.0 L502.3,381.1 L503.6,381.3 L505.0,381.4 L506.4,381.7 L507.8,381.8 L509.2,381.9 L510.6,382.0 L512.0,382.2 L513.4,382.1 L514.8,382.3 L516.2,382.5 L517.6,382.8 L519.0,382.8 L520.4,382.9 L521.8,383.0 L523.2,383.1 L524.5,383.3 L525.9,383.3 L527.3,383.5" stroke="#808080" stroke-width="3.4"/>
<path d="M269.7,288.3 L270.4,291.9 L271.1,295.3 L271.8,298.7 L272.5,301.9 L273.2,305.6 L273.9,309.2 L274.6,312.7 L275.3,316.1 L276.0,319.3 L276.7,322.3 L277.4,325.3 L278.1,328.0 L278.8,330.7 L279.4,333.4 L280.1,335.9 L280.8,338.4 L281.5,340.7 L282.2,342.9 L282.9,345.1 L283.6,347.1 L284.3,349.0 L285.0,351.3 L285.7,353.6 L286.4,355.8 L287.1,357.8 L287.8,359.8 L288.5,361.9 L289.2,363.6 L289.9,365.5 L290.6,367.4 L291.3,369.3 L292.0,371.2 L292.7,373.0 L293.4,374.6 L294.1,376.3 L294.8,377.9 L295.5,380.1 L296.2,382.2 L296.9,384.4 L297.6,386.7 L298.3,388.6 L299.0,390.3 L299.7,391.2 L300.4,392.2 L301.0,393.0 L301.7,394.0 L302.4,395.0 L303.1,396.3 L303.8,397.6 L304.5,398.9 L305.2,400.2 L305.9,401.3 L306.6,402.4 L307.3,403.7 L308.0,404.8 L308.7,406.1 L309.4,407.6 L310.1,409.0 L310.8,410.4 L311.5,411.6 L312.2,413.1 L312.9,414.5 L313.6,416.0 L314.3,417.3 L315.0,418.6 L315.7,419.1 L316.4,419.3 L317.1,419.6 L317.8,419.8 L318.5,420.2 L319.2,421.3 L319.9,422.3 L320.6,423.5 L321.3,424.4 L322.0,425.2 L322.7,426.2 L323.3,427.2 L324.0,428.1 L324.7,428.7 L325.4,429.4 L326.1,430.3 L326.8,430.9 L327.5,431.5 L328.2,432.2 L328.9,433.0 L329.6,433.6 L330.3,434.2 L331.0,434.8 L331.7,435.7 L332.4,436.4 L333.1,437.2 L333.8,437.9 L334.5,438.7 L335.2,439.3 L335.9,440.0 L336.6,440.6 L337.3,441.2 L338.0,441.8 L338.7,442.6 L339.4,443.2 L340.1,443.8 L340.8,444.4 L341.5,445.0 L342.2,445.6 L342.9,445.8 L343.4,446.1 L344.8,447.0 L346.2,448.3 L347.6,449.3 L349.0,450.2 L350.3,451.3 L351.7,452.4 L353.1,453.2 L354.5,454.1 L355.9,455.1 L357.3,456.0 L358.7,456.9 L360.1,457.6 L361.5,458.7 L362.9,459.6 L364.3,460.3 L365.7,461.0 L367.1,461.4 L368.5,462.2 L369.9,462.9 L371.3,463.6 L372.6,464.4 L374.0,464.9 L375.4,465.4 L376.8,466.2 L378.2,466.7 L379.6,467.4 L381.0,467.9 L382.4,468.5 L383.8,468.9 L385.2,469.7 L386.6,470.3 L388.0,470.9 L389.4,471.6 L390.8,472.0 L392.2,472.2 L393.5,472.6 L394.9,473.1 L396.3,473.6 L397.7,474.1 L399.1,474.4 L400.5,475.0 L401.9,475.3 L403.3,475.8 L404.7,476.2 L406.1,476.8 L407.5,477.6 L408.9,478.4 L410.3,479.2 L411.7,479.6 L413.1,479.9 L414.5,480.2 L415.8,480.4 L417.2,480.6 L418.6,480.8 L420.0,480.9 L421.4,481.2 L422.8,481.4 L424.2,481.6 L425.6,481.8 L427.0,482.0 L428.4,482.2 L429.8,482.4 L431.2,482.6 L432.6,482.8 L434.0,483.2 L435.4,483.5 L436.8,483.7 L438.1,484.0 L439.5,484.3 L440.9,484.5 L442.3,484.8 L443.7,485.0 L445.1,485.3 L446.5,485.5 L447.9,485.8 L449.3,486.0 L450.7,486.2 L452.1,486.5 L453.5,486.7 L454.9,486.9 L456.3,487.1 L457.7,487.3 L459.0,487.6 L460.4,487.8 L461.8,488.1 L463.2,488.2 L464.6,488.4 L466.0,488.6 L467.4,488.8 L468.8,489.0 L470.2,489.2 L471.6,489.3 L473.0,489.5 L474.4,489.6 L475.8,489.8 L477.2,490.0 L478.6,490.2 L480.0,490.4 L481.3,490.5 L482.7,490.6 L484.1,490.8 L485.5,490.9 L486.9,491.0 L488.3,491.2 L489.7,491.3 L491.1,491.4 L492.5,491.6 L493.9,491.8 L495.3,491.9 L496.7,492.0 L498.1,492.2 L499.5,492.3 L500.9,492.5 L502.3,492.6 L503.6,492.7 L505.0,492.8 L506.4,492.9 L507.8,493.0 L509.2,493.1 L510.6,493.3 L512.0,493.4 L513.4,493.6 L514.8,493.7 L516.2,493.7 L517.6,493.8 L519.0,493.9 L520.4,494.0 L521.8,494.1 L523.2,494.3 L524.5,494.4 L525.9,494.5 L527.3,494.6" stroke="#000" stroke-width="3.2"/>
<path d="M269.7,278.7 L270.4,283.3 L271.1,287.8 L271.8,292.2 L272.5,296.4 L273.2,300.4 L273.9,304.3 L274.6,308.1 L275.3,311.8 L276.0,315.3 L276.7,318.7 L277.4,322.1 L278.1,325.3 L278.8,328.4 L279.4,331.4 L280.1,334.3 L280.8,337.2 L281.5,339.9 L282.2,342.6 L282.9,345.2 L283.6,347.8 L284.3,350.2 L285.0,352.6 L285.7,355.0 L286.4,357.2 L287.1,359.5 L287.8,361.6 L288.5,363.7 L289.2,365.8 L289.9,367.8 L290.6,369.7 L291.3,371.6 L292.0,373.5 L292.7,375.3 L293.4,377.1 L294.1,378.8 L294.8,380.5 L295.5,382.2 L296.2,383.8 L296.9,385.4 L297.6,387.0 L298.3,388.5 L299.0,390.0 L299.7,391.4 L300.4,392.8 L301.0,394.2 L301.7,395.6 L302.4,396.9 L303.1,398.3 L303.8,399.5 L304.5,400.8 L305.2,402.0 L305.9,403.3 L306.6,404.5 L307.3,405.6 L308.0,406.8 L308.7,407.9 L309.4,409.0 L310.1,410.1 L310.8,411.2 L311.5,412.2 L312.2,413.2 L312.9,414.2 L313.6,415.2 L314.3,416.2 L315.0,417.2 L315.7,418.1 L316.4,419.0 L317.1,420.0 L317.8,420.9 L318.5,421.7 L319.2,422.6 L319.9,423.5 L320.6,424.3 L321.3,425.1 L322.0,425.9 L322.7,426.7 L323.3,427.5 L324.0,428.3 L324.7,429.1 L325.4,429.8 L326.1,430.6 L326.8,431.3 L327.5,432.0 L328.2,432.7 L328.9,433.4 L329.6,434.1 L330.3,434.8 L331.0,435.5 L331.7,436.1 L332.4,436.8 L333.1,437.4 L333.8,438.1 L334.5,438.7 L335.2,439.3 L335.9,439.9 L336.6,440.5 L337.3,441.1 L338.0,441.7 L338.7,442.3 L339.4,442.8 L340.1,443.4 L340.8,443.9 L341.5,444.5 L342.2,445.0 L342.9,445.6 L343.6,446.1 L344.3,446.6 L344.9,447.1 L345.6,447.6 L346.3,448.1 L347.0,448.6 L347.7,449.1 L348.4,449.6 L349.1,450.1 L349.8,450.5 L350.5,451.0 L351.2,451.5 L351.9,451.9 L352.6,452.4 L353.3,452.8 L354.0,453.2 L354.7,453.7 L355.4,454.1 L356.1,454.5 L356.8,455.0 L357.5,455.4 L358.2,455.8 L358.9,456.2 L359.6,456.6 L360.3,457.0 L361.0,457.4 L361.7,457.8 L362.4,458.1 L363.1,458.5 L363.8,458.9 L364.5,459.3 L365.2,459.6 L365.9,460.0 L366.5,460.4 L367.2,460.7 L367.9,461.1 L368.6,461.4 L369.3,461.8 L370.0,462.1 L370.7,462.4 L371.4,462.8 L372.1,463.1 L372.8,463.4 L373.5,463.8 L374.2,464.1 L374.9,464.4 L375.6,464.7 L376.3,465.0 L377.0,465.3 L377.7,465.6 L378.4,465.9 L379.1,466.2 L379.8,466.5 L380.5,466.8 L381.2,467.1 L381.9,467.4 L382.6,467.7 L383.3,468.0 L384.0,468.3 L384.7,468.6 L385.4,468.8 L386.1,469.1 L386.8,469.4 L387.5,469.6 L388.1,469.9 L388.8,470.2 L389.5,470.4 L390.2,470.7 L390.9,471.0 L391.6,471.2 L392.3,471.5 L393.0,471.7 L393.7,472.0 L394.4,472.2 L395.1,472.4 L395.8,472.7 L396.5,472.9 L397.2,473.2 L397.9,473.4 L398.6,473.6 L399.3,473.9 L400.0,474.1 L400.7,474.3 L401.4,474.6 L402.1,474.8 L402.8,475.0 L403.5,475.2 L404.2,475.4 L404.9,475.7 L405.6,475.9 L406.3,476.1 L407.0,476.3 L407.7,476.5 L408.4,476.7 L409.1,476.9 L409.8,477.1 L410.4,477.3 L411.1,477.5 L411.8,477.7 L412.5,477.9 L413.2,478.1 L413.9,478.3 L414.6,478.5 L415.3,478.7 L416.0,478.9 L416.7,479.1 L417.4,479.3 L418.1,479.5 L418.8,479.7 L419.5,479.8 L420.2,480.0 L420.9,480.2 L421.6,480.4 L422.3,480.6 L423.0,480.7 L423.7,480.9 L424.4,481.1 L425.1,481.3 L425.8,481.4 L426.5,481.6 L427.2,481.8 L427.9,481.9 L428.6,482.1 L429.3,482.3 L430.0,482.4 L430.7,482.6 L431.4,482.8 L432.0,482.9 L432.7,483.1 L433.4,483.2 L434.1,483.4 L434.8,483.6 L435.5,483.7 L436.2,483.9 L436.9,484.0 L437.6,484.2 L438.3,484.3 L439.0,484.5 L439.7,484.6 L440.4,484.8 L441.1,484.9 L441.8,485.1 L442.5,485.2 L443.2,485.4 L443.9,485.5 L444.6,485.7 L445.3,485.8 L446.0,485.9 L446.7,486.1 L447.4,486.2 L448.1,486.4 L448.8,486.5 L449.5,486.6 L450.2,486.8 L450.9,486.9 L451.6,487.0 L452.3,487.2 L453.0,487.3 L453.6,487.4 L454.3,487.6 L455.0,487.7 L455.7,487.8 L456.4,487.9 L457.1,488.1 L457.8,488.2 L458.5,488.3 L459.2,488.5 L459.9,488.6 L460.6,488.7 L461.3,488.8 L462.0,488.9 L462.7,489.1 L463.4,489.2 L464.1,489.3 L464.8,489.4 L465.5,489.5 L466.2,489.7 L466.9,489.8 L467.6,489.9 L468.3,490.0 L469.0,490.1 L469.7,490.2 L470.4,490.4 L471.1,490.5 L471.8,490.6 L472.5,490.7 L473.2,490.8 L473.9,490.9 L474.6,491.0 L475.2,491.1 L475.9,491.2 L476.6,491.3 L477.3,491.5 L478.0,491.6 L478.7,491.7 L479.4,491.8 L480.1,491.9 L480.8,492.0 L481.5,492.1 L482.2,492.2 L482.9,492.3 L483.6,492.4 L484.3,492.5 L485.0,492.6 L485.7,492.7 L486.4,492.8 L487.1,492.9 L487.8,493.0 L488.5,493.1 L489.2,493.2 L489.9,493.3 L490.6,493.4 L491.3,493.5 L492.0,493.6 L492.7,493.7 L493.4,493.8 L494.1,493.9 L494.8,493.9 L495.5,494.0 L496.2,494.1 L496.9,494.2 L497.5,494.3 L498.2,494.4 L498.9,494.5 L499.6,494.6 L500.3,494.7 L501.0,494.8 L501.7,494.9 L502.4,494.9 L503.1,495.0 L503.8,495.1 L504.5,495.2 L505.2,495.3 L505.9,495.4 L506.6,495.5 L507.3,495.5 L508.0,495.6 L508.7,495.7 L509.4,495.8 L510.1,495.9 L510.8,496.0 L511.5,496.0 L512.2,496.1 L512.9,496.2 L513.6,496.3 L514.3,496.4 L515.0,496.5 L515.7,496.5 L516.4,496.6 L517.1,496.7 L517.8,496.8 L518.5,496.8 L519.1,496.9 L519.8,497.0 L520.5,497.1 L521.2,497.2 L521.9,497.2 L522.6,497.3 L523.3,497.4 L524.0,497.5 L524.7,497.5 L525.4,497.6 L526.1,497.7 L526.8,497.8 L527.5,497.8 L528.2,497.9" stroke="#ff0000" stroke-width="3.4"/>
</g>
<path d="M272.2,212 L272.2,221 L202.5,221" fill="none" stroke="#000" stroke-width="3.3" stroke-linejoin="round" stroke-linecap="butt"/>
<path d="M187.5,221 L202.5,217.1 L202.5,224.9 Z" fill="#000"/>
<path d="M535.6,151.5 L535.6,171 L596,171" fill="none" stroke="#808080" stroke-width="3.3" stroke-linejoin="round" stroke-linecap="butt"/>
<path d="M609.5,171 L596,167.4 L596,174.6 Z" fill="#808080"/>
<path d="M343.8,451.5 L343.8,464.2 L254.5,464.2" fill="none" stroke="#000" stroke-width="3.3" stroke-linejoin="round" stroke-linecap="butt"/>
<path d="M239.3,464.2 L254.5,460.3 L254.5,468.09999999999997 Z" fill="#000"/>
<path d="M414,357.7 L414,348.4 L465,348.4" fill="none" stroke="#808080" stroke-width="3.3" stroke-linejoin="round" stroke-linecap="butt"/>
<path d="M479,348.4 L465,344.79999999999995 L465,352.0 Z" fill="#808080"/>
<g fill="none">
<path d="M98,1 H623" stroke="#000" stroke-width="2"/>
<path d="M99.4,0 V505" stroke="#000" stroke-width="2"/>
<path d="M622.6,1 V501" stroke="#808080" stroke-width="1.8"/>
<path d="M99,250.5 H623" stroke="#808080" stroke-width="1.8"/>
<path d="M94.5,499.8 H621.7" stroke="#000" stroke-width="2.1"/>
<path d="M273.7,1 v3.5 M273.7,246.5 v8 M273.7,499.6 v5 M447.9,1 v3.5 M447.9,246.5 v8 M447.9,499.6 v5 M622.1,1 v3.5 M622.1,246.5 v8 M622.1,499.6 v5 M186.6,1 v2.3 M186.6,248.3 v3.5 M186.6,499.6 v2.6 M360.8,1 v2.3 M360.8,248.3 v3.5 M360.8,499.6 v2.6 M535.0,1 v2.3 M535.0,248.3 v3.5 M535.0,499.6 v2.6 M94.6,12.0 h5 M94.6,88.9 h5 M94.6,165.7 h5 M94.6,242.6 h5 M96.8,50.4 h3 M96.8,127.3 h3 M96.8,204.2 h3 M94.6,306.9 h5 M94.6,403.1 h5 M94.6,499.4 h5 M96.8,258.8 h3 M96.8,355.0 h3 M96.8,451.3 h3" stroke="#000" stroke-width="1.8"/>
<path d="M618.5,25.8 h4 M618.5,275.6 h4 M618.5,125.8 h4 M618.5,375.1 h4 M618.5,225.8 h4 M618.5,474.6 h4 M620.3,50.8 h2.3 M620.3,300.5 h2.3 M620.3,75.8 h2.3 M620.3,325.4 h2.3 M620.3,100.8 h2.3 M620.3,350.2 h2.3 M620.3,150.8 h2.3 M620.3,400.0 h2.3 M620.3,175.8 h2.3 M620.3,424.9 h2.3 M620.3,200.8 h2.3 M620.3,449.7 h2.3" stroke="#808080" stroke-width="1.5"/>
</g>
<g font-family="Liberation Sans, Arial, sans-serif" font-size="21.5" fill="#000" text-anchor="end">
<text x="91.6" y="19.4">-300</text>
<text x="91.6" y="96.3">-200</text>
<text x="91.6" y="173.1">-100</text>
<text x="91.6" y="250.0">0</text>
<text x="91.6" y="314.3">-100</text>
<text x="91.6" y="410.5">-50</text>
<text x="91.6" y="506.8">0</text>
</g>
<g font-family="Liberation Sans, Arial, sans-serif" font-size="21.5" fill="#000" text-anchor="middle">
<text x="99.8" y="524.4">0</text>
<text x="274.0" y="524.4">100</text>
<text x="448.2" y="524.4">200</text>
<text x="623" y="524.4">300</text>
</g>
<g font-family="Liberation Sans, Arial, sans-serif" font-size="21.5" fill="#808080">
<text x="626.6" y="33.2">20</text>
<text x="626.6" y="283.0">20</text>
<text x="626.6" y="133.2">0</text>
<text x="626.6" y="382.5">0</text>
<text x="626.6" y="233.2">-20</text>
<text x="626.6" y="482.0">-20</text>
</g>
<text transform="translate(665.8,75.4) rotate(90)" font-family="Liberation Sans, Arial, sans-serif" font-size="25.7" fill="#808080">Residual</text>
<text transform="translate(665.6,324.8) rotate(90)" font-family="Liberation Sans, Arial, sans-serif" font-size="25.7" fill="#808080">Residual</text>
<path d="M473,25.6 H520" stroke="#808080" stroke-width="3" stroke-linecap="round" fill="none"/>
<text x="526.7" y="33.0" font-family="Liberation Sans, Arial, sans-serif" font-size="21.5" fill="#000">Residual</text>
<path d="M473,52.2 H520" stroke="#000" stroke-width="3" stroke-linecap="round" fill="none"/>
<text x="526.7" y="59.6" font-family="Liberation Sans, Arial, sans-serif" font-size="21.5" fill="#000">Data</text>
<path d="M473,78.8 H520" stroke="#ff0000" stroke-width="3" stroke-linecap="round" fill="none"/>
<text x="526.7" y="86.2" font-family="Liberation Sans, Arial, sans-serif" font-size="21.5" fill="#000">CW Fit</text>
<path d="M465,276.6 H512" stroke="#808080" stroke-width="3" stroke-linecap="round" fill="none"/>
<text x="518.1" y="284.0" font-family="Liberation Sans, Arial, sans-serif" font-size="21.5" fill="#000">Residual</text>
<path d="M465,303.3 H512" stroke="#000" stroke-width="3" stroke-linecap="round" fill="none"/>
<text x="518.1" y="310.7" font-family="Liberation Sans, Arial, sans-serif" font-size="21.5" fill="#000">Data</text>
<path d="M465,330 H512" stroke="#ff0000" stroke-width="3" stroke-linecap="round" fill="none"/>
<text x="518.1" y="337.4" font-family="Liberation Sans, Arial, sans-serif" font-size="21.5" fill="#000">CW Fit</text>
<text transform="translate(134.2,24.5) scale(1.05,1)" font-family="Liberation Serif, Times New Roman, serif" font-size="24.8" fill="#000" font-weight="bold">a</text>
<text transform="translate(154.6,24.5) scale(1.18,1)" font-family="Liberation Serif, Times New Roman, serif" font-size="24.8" fill="#000" font-style="italic">x</text>
<text transform="translate(176.6,24.5) scale(1.36,1)" font-family="Liberation Serif, Times New Roman, serif" font-size="24.8" fill="#000" >=</text>
<text transform="translate(204.0,24.5) scale(1.0,1)" font-family="Liberation Serif, Times New Roman, serif" font-size="24.8" fill="#000" >0.068</text>
<text transform="translate(267.6,23.9) scale(1,1.11)" font-family="Liberation Serif, Times New Roman, serif" font-size="24.8" fill="#000" >(</text>
<text transform="translate(275.6,24.5) scale(1.18,1)" font-family="Liberation Serif, Times New Roman, serif" font-size="24.8" fill="#000" font-style="italic">x</text>
<text transform="translate(296,24.5) scale(1.5,1)" font-family="Liberation Serif, Times New Roman, serif" font-size="24.8" fill="#000" >≈</text>
<text transform="translate(323.4,24.5) scale(1.18,1)" font-family="Liberation Serif, Times New Roman, serif" font-size="24.8" fill="#000" font-style="italic">x</text>
<text transform="translate(337.3,28.5) scale(1.15,1)" font-family="Liberation Serif, Times New Roman, serif" font-size="17.9" fill="#000" font-style="italic">c</text>
<text transform="translate(347.3,23.9) scale(1,1.11)" font-family="Liberation Serif, Times New Roman, serif" font-size="24.8" fill="#000" >)</text>
<text transform="translate(137.5,277.6) scale(1.05,1)" font-family="Liberation Serif, Times New Roman, serif" font-size="24.8" fill="#000" font-weight="bold">b</text>
<text transform="translate(160,277.6) scale(1.18,1)" font-family="Liberation Serif, Times New Roman, serif" font-size="24.8" fill="#000" font-style="italic">x</text>
<text transform="translate(180.2,277.6) scale(1.36,1)" font-family="Liberation Serif, Times New Roman, serif" font-size="24.8" fill="#000" >=</text>
<text transform="translate(208.2,277.6) scale(1.02,1)" font-family="Liberation Serif, Times New Roman, serif" font-size="24.8" fill="#000" >0.025</text>
<text transform="translate(270.8,277.0) scale(1,1.11)" font-family="Liberation Serif, Times New Roman, serif" font-size="24.8" fill="#000" >(</text>
<text transform="translate(279.6,277.6) scale(1.18,1)" font-family="Liberation Serif, Times New Roman, serif" font-size="24.8" fill="#000" font-style="italic">x</text>
<text transform="translate(300.6,280.70000000000005) scale(1.36,1.2)" font-family="Liberation Serif, Times New Roman, serif" font-size="24.8" fill="#000" >&lt;</text>
<text transform="translate(321.1,280.70000000000005) scale(1.36,1.2)" font-family="Liberation Serif, Times New Roman, serif" font-size="24.8" fill="#000" >&lt;</text>
<text transform="translate(347,277.6) scale(1.18,1)" font-family="Liberation Serif, Times New Roman, serif" font-size="24.8" fill="#000" font-style="italic">x</text>
<text transform="translate(361.5,281.6) scale(1.15,1)" font-family="Liberation Serif, Times New Roman, serif" font-size="17.9" fill="#000" font-style="italic">c</text>
<text transform="translate(370.3,277.0) scale(1,1.11)" font-family="Liberation Serif, Times New Roman, serif" font-size="24.8" fill="#000" >)</text>
<text transform="translate(394.3,595.8) scale(1.05,1)" font-family="Liberation Serif, Times New Roman, serif" font-size="24.8" fill="#000" font-weight="bold">c</text>
<text transform="translate(420.6,595.8) scale(1.18,1)" font-family="Liberation Serif, Times New Roman, serif" font-size="24.8" fill="#000" font-style="italic">x</text>
<text transform="translate(441.6,595.8) scale(1.36,1)" font-family="Liberation Serif, Times New Roman, serif" font-size="24.8" fill="#000" >=</text>
<text transform="translate(467.6,595.8) scale(1.0,1)" font-family="Liberation Serif, Times New Roman, serif" font-size="24.8" fill="#000" >0.068</text>
<text transform="translate(532,595.1999999999999) scale(1,1.11)" font-family="Liberation Serif, Times New Roman, serif" font-size="24.8" fill="#000" >(</text>
<text transform="translate(540,595.8) scale(1.18,1)" font-family="Liberation Serif, Times New Roman, serif" font-size="24.8" fill="#000" font-style="italic">x</text>
<text transform="translate(560.4,595.8) scale(1.5,1)" font-family="Liberation Serif, Times New Roman, serif" font-size="24.8" fill="#000" >≈</text>
<text transform="translate(587.8,595.8) scale(1.18,1)" font-family="Liberation Serif, Times New Roman, serif" font-size="24.8" fill="#000" font-style="italic">x</text>
<text transform="translate(601.7,599.8) scale(1.15,1)" font-family="Liberation Serif, Times New Roman, serif" font-size="17.9" fill="#000" font-style="italic">c</text>
<text transform="translate(611.7,595.1999999999999) scale(1,1.11)" font-family="Liberation Serif, Times New Roman, serif" font-size="24.8" fill="#000" >)</text>
<text transform="translate(329.4,532.9) scale(1.14,1)" font-family="Liberation Serif, Times New Roman, serif" font-size="26" fill="#1a1a1a" font-style="italic">T</text>
<text transform="translate(354.2,533.5) scale(1,1.13)" font-family="Liberation Serif, Times New Roman, serif" font-size="26" fill="#1a1a1a" >(</text>
<text transform="translate(364.3,532.9) scale(1.15,1)" font-family="Liberation Serif, Times New Roman, serif" font-size="26" fill="#1a1a1a" font-style="italic">K</text>
<text transform="translate(386.2,533.5) scale(1,1.13)" font-family="Liberation Serif, Times New Roman, serif" font-size="26" fill="#1a1a1a" >)</text>
<text transform="translate(329.4,1038.6) scale(1.14,1)" font-family="Liberation Serif, Times New Roman, serif" font-size="26" fill="#1a1a1a" font-style="italic">T</text>
<text transform="translate(354.2,1039.1999999999998) scale(1,1.13)" font-family="Liberation Serif, Times New Roman, serif" font-size="26" fill="#1a1a1a" >(</text>
<text transform="translate(364.3,1038.6) scale(1.15,1)" font-family="Liberation Serif, Times New Roman, serif" font-size="26" fill="#1a1a1a" font-style="italic">K</text>
<text transform="translate(386.2,1039.1999999999998) scale(1,1.13)" font-family="Liberation Serif, Times New Roman, serif" font-size="26" fill="#1a1a1a" >)</text>
<g transform="translate(37.2,155.5) rotate(-90)" font-family="Liberation Serif, Times New Roman, serif" fill="#222" font-style="italic"><text x="0" y="0" font-size="26">m</text><text x="24" y="-13.3" font-size="18.5">B<tspan font-size="14.5" dy="3">2g</tspan></text><text x="21.5" y="6.3" font-size="18.5">B<tspan font-size="14.5" dy="3">2g</tspan></text></g>
<g transform="translate(35.6,405) rotate(-90)" font-family="Liberation Serif, Times New Roman, serif" fill="#222" font-style="italic"><text x="0" y="0" font-size="26">m</text><text x="24" y="-13.3" font-size="18.5">B<tspan font-size="14.5" dy="3">2g</tspan></text><text x="21.5" y="6.3" font-size="18.5">B<tspan font-size="14.5" dy="3">2g</tspan></text></g>
<g clip-path="url(#cc)" fill="none" stroke-linejoin="round" stroke-linecap="round" stroke-width="3.8">
<path d="M124.4,582.5 L128.9,583.2 L133.3,583.9 L137.6,584.6 L141.7,585.3 L145.8,585.8 L149.7,586.5 L153.5,587.1 L157.3,587.5 L160.9,588.0 L164.5,588.4 L168.0,589.2 L171.4,589.9 L174.7,590.6 L178.0,591.4 L181.2,592.2 L184.3,592.9 L187.4,593.4 L190.4,593.8 L193.4,594.3 L196.3,594.8 L199.1,595.5 L201.9,596.1 L204.6,596.9 L207.3,597.6 L210.0,598.2 L212.6,598.6 L215.2,599.3 L217.7,599.9 L220.2,600.6 L222.6,601.0 L225.0,601.6 L227.4,602.0 L229.7,602.5 L232.0,603.2 L234.2,603.3 L236.5,603.9 L238.7,605.1 L240.8,606.0 L243.0,607.0 L245.1,607.5 L247.1,607.9 L249.2,608.2 L251.2,608.7 L253.2,609.5 L255.2,609.6 L257.1,610.2 L259.0,610.7 L260.9,611.2 L262.8,612.5 L264.7,613.3 L266.5,613.7 L268.3,614.6 L270.1,615.2 L271.8,615.4 L273.6,615.8 L275.3,616.0 L277.0,616.4 L278.7,616.9 L280.4,616.8 L282.0,617.0 L283.7,617.7 L285.3,618.6 L286.9,619.2 L288.5,620.0 L290.0,620.9 L291.6,621.9 L293.1,622.7 L294.7,622.8 L296.2,623.2 L297.7,624.2 L299.1,624.6 L300.6,625.6 L302.0,626.6 L303.5,627.8 L304.9,628.2 L306.3,628.2 L307.7,628.3 L309.1,628.4 L310.5,629.0 L311.8,629.8 L313.2,630.8 L314.5,632.0 L315.8,633.1 L317.1,634.2 L318.5,634.3 L319.7,634.7 L321.0,635.0 L322.3,635.7 L323.6,636.1 L324.8,636.6 L326.0,637.5 L327.3,638.0 L328.5,639.1 L329.7,639.7 L330.9,640.4 L332.1,640.5 L333.3,641.2 L334.4,641.3 L335.6,641.5 L336.8,642.4 L337.9,643.1 L339.1,644.0 L340.2,645.6 L341.3,645.8 L342.4,646.3 L343.5,647.2 L344.6,648.2 L345.7,648.8 L346.8,649.5 L347.9,650.5 L348.9,651.2 L350.0,651.4 L351.1,652.2 L352.1,652.9 L353.1,653.2 L354.2,654.2 L355.2,654.6 L356.2,655.7 L357.2,656.4 L358.2,657.0 L359.2,657.4 L360.2,658.0 L361.2,657.9 L362.2,658.4 L363.2,659.4 L364.1,659.3 L365.1,660.5 L366.0,660.5 L367.0,661.6 L367.9,661.9 L368.9,662.9 L369.8,663.7 L370.7,663.7 L371.6,665.2 L372.6,666.5 L373.5,666.9 L374.4,667.4 L375.3,668.0 L376.2,668.3 L377.1,669.5 L377.9,669.6 L378.8,670.0 L379.7,670.0 L380.6,670.3 L381.4,670.3 L382.3,671.6 L383.1,671.9 L384.0,672.8 L384.8,673.8 L385.7,674.6 L386.5,675.6 L387.3,676.2 L388.2,676.9 L389.0,677.4 L389.8,677.9 L390.6,677.9 L391.4,678.4 L392.2,680.1 L393.0,680.3 L393.8,680.5 L394.6,681.4 L395.4,682.8 L396.2,682.5 L397.0,683.1 L397.7,683.7 L398.5,684.3 L399.3,686.4 L400.1,687.8 L400.8,688.4 L401.6,688.5 L402.3,689.2 L403.1,689.3 L403.8,689.8 L404.6,689.8 L405.3,689.9 L406.0,691.5 L406.8,691.7 L407.5,692.4 L408.2,693.1 L408.9,693.8 L409.7,694.4 L410.4,695.8 L411.1,696.5 L411.8,697.3 L412.5,698.1 L413.2,699.2 L413.9,699.8 L414.6,700.2 L415.3,700.1 L416.0,699.7 L416.7,701.0 L417.4,702.0 L418.0,702.4 L418.7,703.2 L419.4,704.1 L420.1,704.9 L420.7,705.8 L421.4,705.8 L422.1,707.1 L422.7,706.7 L423.4,707.8 L424.0,708.6 L424.7,709.6 L425.3,711.0 L426.0,711.9 L426.6,711.1 L427.3,710.5 L427.9,711.8 L428.5,711.7 L429.2,712.5 L429.8,713.7 L430.4,713.2 L431.0,712.8 L431.7,714.2 L432.3,715.1 L432.9,715.7 L433.5,716.4 L434.1,716.5 L434.7,716.4 L435.3,717.3 L436.0,717.6 L436.6,717.6 L437.2,719.0 L437.8,719.8 L438.3,720.8 L438.9,720.7 L439.5,721.0 L440.1,721.3 L440.7,721.7 L441.3,722.8 L441.9,723.0 L442.5,724.1 L443.0,725.0 L443.6,726.8 L444.2,725.9 L444.8,727.0 L445.3,727.3 L445.9,727.7 L446.5,727.3 L447.0,727.9 L447.6,729.3 L448.1,729.8 L448.7,730.5 L449.3,730.9 L449.8,732.3 L450.4,732.7 L450.9,731.6 L451.5,732.2 L452.0,732.0 L452.5,731.2 L453.1,732.8 L453.6,735.3 L453.7,735.6 L454.6,736.0 L455.5,736.7 L456.4,739.1 L457.3,740.2 L458.2,741.3 L459.1,742.3 L460.0,743.3 L460.9,745.0 L461.8,746.2 L462.7,747.2 L463.5,747.2 L464.4,748.9 L465.3,749.4 L466.1,751.5 L467.0,751.4 L467.8,752.6 L468.6,753.9 L469.5,754.0 L470.3,757.0 L471.1,759.1 L471.9,759.1 L472.8,760.6 L473.6,761.7 L474.4,760.1 L475.2,762.1 L476.0,763.5 L476.8,764.9 L477.6,765.2 L478.4,766.6 L479.2,767.9 L479.9,770.5 L480.7,771.7 L481.5,772.6 L482.2,775.1 L483.0,775.0 L483.8,775.5 L484.5,774.9 L485.3,778.3 L486.0,780.2 L486.8,781.7 L487.5,784.7 L488.3,788.1 L489.0,788.1 L489.7,785.8 L490.5,784.8 L491.2,785.9 L491.9,788.6 L492.6,789.6 L493.3,790.0 L494.0,790.1 L494.8,790.5 L495.5,793.6 L496.2,794.8 L496.9,795.4 L497.6,795.7 L498.2,795.5 L498.9,797.0 L499.6,799.5 L500.3,799.9 L501.0,800.7 L501.7,801.7 L502.3,803.1 L503.0,802.3 L503.7,803.9 L504.3,804.5 L505.0,807.5 L505.7,807.6 L506.3,809.9 L507.0,812.9 L507.6,812.8 L508.3,812.8 L508.9,814.3 L509.6,815.4 L510.2,815.4 L510.8,817.8 L511.5,822.1 L512.1,822.0 L512.7,822.5 L513.4,822.2 L514.0,824.5 L514.6,824.2 L515.2,824.8 L515.8,829.3 L516.5,829.3 L517.1,832.9 L517.7,836.5 L518.3,837.3 L518.9,838.7 L519.5,842.6 L520.1,841.8 L520.7,841.3 L521.3,840.3 L521.9,842.6 L522.5,847.3 L523.1,849.8 L523.7,848.5 L524.2,848.5 L524.8,849.7 L525.4,852.6 L526.0,854.1 L526.6,856.5 L527.1,858.7 L527.7,859.6 L528.3,861.4 L528.8,863.7 L529.4,865.2 L530.0,868.1 L530.5,873.8 L531.1,875.1 L531.6,875.4 L532.2,872.3 L532.7,876.0 L533.3,873.6 L533.8,874.1 L534.4,880.5 L534.9,885.0 L535.5,886.3 L536.0,884.0 L536.6,886.8 L537.1,888.5 L537.6,894.0 L538.2,903.3 L538.7,903.8 L539.2,901.9 L539.8,900.6 L540.3,904.2 L540.8,907.0 L541.3,906.6 L541.9,911.4 L542.4,911.3 L542.9,920.1 L543.4,926.9 L543.9,932.6 L544.4,930.8 L544.9,935.2 L545.5,936.5 L546.0,937.5 L546.5,939.7 L547.0,938.1 L547.5,938.0 L548.0,949.7 L548.5,954.0 L549.0,960.7 L549.5,971.7 L550.0,963.6 L550.5,966.3 L550.9,976.1 L551.4,986.5 L551.9,989.8 L552.4,1007.0 L552.9,1013.7 L553.4,1006.5 L553.9,1008.0 L554.3,1032.0 L554.8,1050.3 L555.3,1031.4 L555.8,1078.8 L556.2,1114.7" stroke="#3300ff"/>
<path d="M124.4,581.1 L128.9,581.8 L133.3,582.5 L137.6,583.2 L141.7,583.8 L145.8,584.4 L149.7,585.0 L153.5,585.6 L157.3,586.1 L160.9,586.5 L164.5,586.9 L168.0,587.6 L171.4,588.4 L174.7,589.1 L178.0,589.9 L181.2,590.6 L184.3,591.3 L187.4,591.8 L190.4,592.2 L193.4,592.7 L196.3,593.1 L199.1,593.9 L201.9,594.5 L204.6,595.2 L207.3,595.9 L210.0,596.5 L212.6,596.9 L215.2,597.5 L217.7,598.2 L220.2,598.9 L222.6,599.2 L225.0,599.8 L227.4,600.2 L229.7,600.7 L232.0,601.4 L234.2,601.5 L236.5,602.0 L238.7,603.2 L240.8,604.1 L243.0,605.1 L245.1,605.5 L247.1,606.0 L249.2,606.2 L251.2,606.8 L253.2,607.5 L255.2,607.6 L257.1,608.2 L259.0,608.7 L260.9,609.2 L262.8,610.4 L264.7,611.2 L266.5,611.6 L268.3,612.5 L270.1,613.1 L271.8,613.3 L273.6,613.7 L275.3,613.9 L277.0,614.2 L278.7,614.7 L280.4,614.6 L282.0,614.9 L283.7,615.5 L285.3,616.3 L286.9,616.9 L288.5,617.7 L290.0,618.6 L291.6,619.6 L293.1,620.3 L294.7,620.4 L296.2,620.8 L297.7,621.8 L299.1,622.2 L300.6,623.1 L302.0,624.1 L303.5,625.3 L304.9,625.7 L306.3,625.7 L307.7,625.8 L309.1,625.9 L310.5,626.4 L311.8,627.3 L313.2,628.2 L314.5,629.4 L315.8,630.4 L317.1,631.4 L318.5,631.6 L319.7,632.0 L321.0,632.2 L322.3,632.9 L323.6,633.3 L324.8,633.7 L326.0,634.6 L327.3,635.2 L328.5,636.2 L329.7,636.8 L330.9,637.4 L332.1,637.5 L333.3,638.2 L334.4,638.3 L335.6,638.5 L336.8,639.4 L337.9,640.0 L339.1,640.9 L340.2,642.4 L341.3,642.6 L342.4,643.1 L343.5,644.0 L344.6,644.9 L345.7,645.5 L346.8,646.2 L347.9,647.1 L348.9,647.8 L350.0,648.0 L351.1,648.7 L352.1,649.4 L353.1,649.7 L354.2,650.6 L355.2,651.0 L356.2,652.1 L357.2,652.7 L358.2,653.3 L359.2,653.7 L360.2,654.3 L361.2,654.2 L362.2,654.6 L363.2,655.6 L364.1,655.5 L365.1,656.7 L366.0,656.6 L367.0,657.7 L367.9,658.0 L368.9,658.9 L369.8,659.7 L370.7,659.7 L371.6,661.1 L372.6,662.3 L373.5,662.7 L374.4,663.2 L375.3,663.7 L376.2,664.0 L377.1,665.2 L377.9,665.3 L378.8,665.6 L379.7,665.7 L380.6,665.9 L381.4,666.0 L382.3,667.1 L383.1,667.4 L384.0,668.3 L384.8,669.2 L385.7,669.9 L386.5,671.0 L387.3,671.5 L388.2,672.2 L389.0,672.6 L389.8,673.1 L390.6,673.1 L391.4,673.6 L392.2,675.1 L393.0,675.3 L393.8,675.5 L394.6,676.4 L395.4,677.7 L396.2,677.4 L397.0,678.0 L397.7,678.5 L398.5,679.1 L399.3,681.0 L400.1,682.3 L400.8,682.9 L401.6,682.9 L402.3,683.7 L403.1,683.8 L403.8,684.2 L404.6,684.2 L405.3,684.3 L406.0,685.7 L406.8,685.9 L407.5,686.6 L408.2,687.3 L408.9,687.9 L409.7,688.5 L410.4,689.7 L411.1,690.4 L411.8,691.1 L412.5,691.9 L413.2,692.9 L413.9,693.5 L414.6,693.8 L415.3,693.7 L416.0,693.4 L416.7,694.5 L417.4,695.5 L418.0,695.8 L418.7,696.5 L419.4,697.4 L420.1,698.1 L420.7,698.9 L421.4,698.9 L422.1,700.1 L422.7,699.7 L423.4,700.8 L424.0,701.5 L424.7,702.4 L425.3,703.7 L426.0,704.5 L426.6,703.7 L427.3,703.2 L427.9,704.4 L428.5,704.3 L429.2,705.0 L429.8,706.1 L430.4,705.6 L431.0,705.3 L431.7,706.5 L432.3,707.4 L432.9,707.9 L433.5,708.5 L434.1,708.6 L434.7,708.5 L435.3,709.4 L436.0,709.6 L436.6,709.6 L437.2,710.9 L437.8,711.6 L438.3,712.5 L438.9,712.4 L439.5,712.7 L440.1,712.9 L440.7,713.3 L441.3,714.3 L441.9,714.5 L442.5,715.5 L443.0,716.2 L443.6,717.8 L444.2,717.0 L444.8,718.0 L445.3,718.3 L445.9,718.7 L446.5,718.3 L447.0,718.8 L447.6,720.1 L448.1,720.6 L448.7,721.1 L449.3,721.5 L449.8,722.8 L450.4,723.0 L450.9,722.1 L451.5,722.7 L452.0,722.4 L452.5,721.8 L453.1,723.2 L453.6,725.3 L453.7,725.6 L454.6,725.9 L455.5,726.6 L456.4,728.7 L457.3,729.7 L458.2,730.6 L459.1,731.4 L460.0,732.4 L460.9,733.8 L461.8,734.9 L462.7,735.7 L463.5,735.7 L464.4,737.1 L465.3,737.5 L466.1,739.4 L467.0,739.2 L467.8,740.3 L468.6,741.4 L469.5,741.5 L470.3,744.0 L471.1,745.7 L471.9,745.8 L472.8,747.1 L473.6,747.9 L474.4,746.6 L475.2,748.3 L476.0,749.5 L476.8,750.6 L477.6,750.9 L478.4,752.0 L479.2,753.1 L479.9,755.2 L480.7,756.2 L481.5,756.9 L482.2,758.9 L483.0,758.9 L483.8,759.3 L484.5,758.8 L485.3,761.5 L486.0,763.0 L486.8,764.3 L487.5,766.6 L488.3,769.2 L489.0,769.3 L489.7,767.5 L490.5,766.7 L491.2,767.5 L491.9,769.6 L492.6,770.4 L493.3,770.7 L494.0,770.8 L494.8,771.1 L495.5,773.5 L496.2,774.4 L496.9,774.9 L497.6,775.1 L498.2,775.0 L498.9,776.1 L499.6,777.9 L500.3,778.3 L501.0,778.9 L501.7,779.6 L502.3,780.6 L503.0,780.1 L503.7,781.2 L504.3,781.7 L505.0,783.9 L505.7,784.0 L506.3,785.6 L507.0,787.8 L507.6,787.8 L508.3,787.8 L508.9,788.8 L509.6,789.6 L510.2,789.6 L510.8,791.3 L511.5,794.3 L512.1,794.2 L512.7,794.6 L513.4,794.4 L514.0,796.0 L514.6,795.8 L515.2,796.2 L515.8,799.2 L516.5,799.2 L517.1,801.6 L517.7,804.0 L518.3,804.5 L518.9,805.4 L519.5,807.9 L520.1,807.4 L520.7,807.1 L521.3,806.4 L521.9,807.9 L522.5,810.8 L523.1,812.3 L523.7,811.5 L524.2,811.5 L524.8,812.3 L525.4,814.0 L526.0,814.9 L526.6,816.3 L527.1,817.7 L527.7,818.2 L528.3,819.2 L528.8,820.5 L529.4,821.3 L530.0,822.9 L530.5,826.0 L531.1,826.7 L531.6,826.8 L532.2,825.2 L532.7,827.2 L533.3,825.9 L533.8,826.2 L534.4,829.5 L534.9,831.7 L535.5,832.4 L536.0,831.2 L536.6,832.6 L537.1,833.5 L537.6,836.1 L538.2,840.2 L538.7,840.4 L539.2,839.6 L539.8,839.1 L540.3,840.6 L540.8,841.8 L541.3,841.6 L541.9,843.7 L542.4,843.6 L542.9,847.1 L543.4,849.6 L543.9,851.6 L544.4,850.9 L544.9,852.5 L545.5,852.9 L546.0,853.2 L546.5,853.9 L547.0,853.4 L547.5,853.4 L548.0,857.0 L548.5,858.2 L549.0,860.0 L549.5,862.8 L550.0,860.8 L550.5,861.5 L550.9,863.8 L551.4,866.0 L551.9,866.7 L552.4,869.7 L552.9,870.8 L553.4,869.7 L553.9,869.9 L554.3,873.3 L554.8,875.3 L555.3,873.2 L555.8,877.7 L556.2,879.7 L556.7,882.7 L557.2,882.1 L557.7,882.4 L558.1,881.7 L558.6,888.0 L559.1,887.7 L559.5,891.2 L560.0,889.9 L560.4,891.1 L560.9,889.1 L561.4,890.7 L561.8,894.7 L562.3,893.6 L562.7,897.9 L563.2,899.6 L563.6,898.6 L564.1,899.6 L564.5,900.9 L565.0,903.0 L565.4,904.0 L565.9,904.5 L566.3,906.5 L566.8,906.7 L567.2,906.9 L567.7,910.3 L568.1,915.2 L568.5,913.2 L569.0,916.1 L569.4,917.0 L569.8,917.4 L570.3,922.8 L570.7,923.4 L571.1,929.8 L571.6,928.1 L572.0,931.1 L572.4,931.9 L572.8,931.6 L573.3,936.0 L573.7,937.3 L574.1,941.2 L574.5,942.3 L575.0,940.4 L575.4,943.1 L575.8,946.2 L576.2,952.2 L576.6,949.9 L577.0,952.5 L577.4,948.8 L577.9,956.2 L578.3,954.9 L578.7,952.3 L579.1,958.2 L579.5,967.8 L579.9,963.4 L580.3,963.5 L580.7,966.0 L581.1,966.7 L581.5,975.0 L581.9,975.6 L582.3,977.3 L582.7,986.4 L583.1,985.8 L583.5,993.6 L583.9,991.1 L584.3,989.4 L584.7,986.0 L585.1,1008.5 L585.5,1009.4 L585.9,1015.9 L586.3,1019.3 L586.7,1024.7 L587.0,1028.9 L587.4,1055.2 L587.8,1038.4 L588.2,1026.8 L588.6,1027.0 L589.0,1025.9 L589.4,1049.3 L589.7,1072.9 L590.1,1063.4 L590.5,1055.3 L590.9,1068.2 L591.3,1123.5 L591.6,1067.7 L592.0,1108.8 L592.4,1104.0" stroke="#0044ff"/>
<path d="M124.4,580.3 L128.9,581.0 L133.3,581.7 L137.6,582.3 L141.7,583.0 L145.8,583.5 L149.7,584.1 L153.5,584.7 L157.3,585.2 L160.9,585.6 L164.5,586.0 L168.0,586.7 L171.4,587.5 L174.7,588.2 L178.0,588.9 L181.2,589.7 L184.3,590.3 L187.4,590.9 L190.4,591.3 L193.4,591.7 L196.3,592.2 L199.1,592.9 L201.9,593.5 L204.6,594.2 L207.3,594.9 L210.0,595.5 L212.6,595.9 L215.2,596.5 L217.7,597.2 L220.2,597.8 L222.6,598.2 L225.0,598.7 L227.4,599.2 L229.7,599.6 L232.0,600.3 L234.2,600.4 L236.5,601.0 L238.7,602.1 L240.8,603.0 L243.0,603.9 L245.1,604.4 L247.1,604.9 L249.2,605.1 L251.2,605.6 L253.2,606.3 L255.2,606.4 L257.1,607.1 L259.0,607.5 L260.9,608.0 L262.8,609.2 L264.7,610.0 L266.5,610.4 L268.3,611.2 L270.1,611.8 L271.8,612.0 L273.6,612.4 L275.3,612.6 L277.0,613.0 L278.7,613.4 L280.4,613.4 L282.0,613.6 L283.7,614.2 L285.3,615.0 L286.9,615.6 L288.5,616.4 L290.0,617.3 L291.6,618.2 L293.1,619.0 L294.7,619.1 L296.2,619.4 L297.7,620.4 L299.1,620.8 L300.6,621.7 L302.0,622.6 L303.5,623.9 L304.9,624.2 L306.3,624.2 L307.7,624.3 L309.1,624.4 L310.5,624.9 L311.8,625.7 L313.2,626.7 L314.5,627.8 L315.8,628.8 L317.1,629.8 L318.5,630.0 L319.7,630.4 L321.0,630.6 L322.3,631.3 L323.6,631.6 L324.8,632.1 L326.0,632.9 L327.3,633.5 L328.5,634.5 L329.7,635.1 L330.9,635.7 L332.1,635.8 L333.3,636.5 L334.4,636.5 L335.6,636.7 L336.8,637.6 L337.9,638.2 L339.1,639.1 L340.2,640.6 L341.3,640.8 L342.4,641.2 L343.5,642.1 L344.6,643.0 L345.7,643.6 L346.8,644.2 L347.9,645.1 L348.9,645.9 L350.0,646.0 L351.1,646.7 L352.1,647.4 L353.1,647.7 L354.2,648.6 L355.2,648.9 L356.2,650.0 L357.2,650.6 L358.2,651.2 L359.2,651.5 L360.2,652.2 L361.2,652.1 L362.2,652.5 L363.2,653.4 L364.1,653.3 L365.1,654.5 L366.0,654.4 L367.0,655.5 L367.9,655.7 L368.9,656.7 L369.8,657.4 L370.7,657.4 L371.6,658.8 L372.6,659.9 L373.5,660.3 L374.4,660.7 L375.3,661.3 L376.2,661.6 L377.1,662.7 L377.9,662.8 L378.8,663.1 L379.7,663.2 L380.6,663.4 L381.4,663.5 L382.3,664.6 L383.1,664.9 L384.0,665.7 L384.8,666.6 L385.7,667.3 L386.5,668.3 L387.3,668.8 L388.2,669.5 L389.0,669.9 L389.8,670.3 L390.6,670.4 L391.4,670.8 L392.2,672.3 L393.0,672.5 L393.8,672.7 L394.6,673.5 L395.4,674.7 L396.2,674.5 L397.0,675.1 L397.7,675.6 L398.5,676.1 L399.3,678.0 L400.1,679.2 L400.8,679.8 L401.6,679.8 L402.3,680.5 L403.1,680.6 L403.8,681.0 L404.6,681.0 L405.3,681.1 L406.0,682.5 L406.8,682.7 L407.5,683.3 L408.2,684.0 L408.9,684.5 L409.7,685.1 L410.4,686.3 L411.1,686.9 L411.8,687.7 L412.5,688.4 L413.2,689.4 L413.9,689.9 L414.6,690.2 L415.3,690.1 L416.0,689.8 L416.7,690.9 L417.4,691.8 L418.0,692.1 L418.7,692.8 L419.4,693.6 L420.1,694.3 L420.7,695.1 L421.4,695.1 L422.1,696.2 L422.7,695.8 L423.4,696.9 L424.0,697.5 L424.7,698.4 L425.3,699.6 L426.0,700.4 L426.6,699.6 L427.3,699.1 L427.9,700.3 L428.5,700.2 L429.2,700.9 L429.8,701.9 L430.4,701.5 L431.0,701.1 L431.7,702.3 L432.3,703.1 L432.9,703.6 L433.5,704.2 L434.1,704.3 L434.7,704.2 L435.3,705.0 L436.0,705.2 L436.6,705.2 L437.2,706.4 L437.8,707.1 L438.3,707.9 L438.9,707.8 L439.5,708.1 L440.1,708.3 L440.7,708.6 L441.3,709.6 L441.9,709.8 L442.5,710.7 L443.0,711.4 L443.6,712.9 L444.2,712.2 L444.8,713.1 L445.3,713.4 L445.9,713.7 L446.5,713.4 L447.0,713.9 L447.6,715.0 L448.1,715.5 L448.7,716.0 L449.3,716.3 L449.8,717.5 L450.4,717.8 L450.9,716.9 L451.5,717.4 L452.0,717.2 L452.5,716.6 L453.1,717.9 L453.6,719.9 L453.7,720.2 L454.6,720.5 L455.5,721.1 L456.4,723.0 L457.3,724.0 L458.2,724.8 L459.1,725.6 L460.0,726.5 L460.9,727.8 L461.8,728.8 L462.7,729.5 L463.5,729.5 L464.4,730.8 L465.3,731.2 L466.1,732.9 L467.0,732.8 L467.8,733.8 L468.6,734.8 L469.5,734.8 L470.3,737.2 L471.1,738.8 L471.9,738.8 L472.8,739.9 L473.6,740.7 L474.4,739.6 L475.2,741.1 L476.0,742.1 L476.8,743.2 L477.6,743.4 L478.4,744.4 L479.2,745.4 L479.9,747.3 L480.7,748.2 L481.5,748.8 L482.2,750.7 L483.0,750.6 L483.8,751.0 L484.5,750.5 L485.3,752.9 L486.0,754.3 L486.8,755.4 L487.5,757.5 L488.3,759.8 L489.0,759.9 L489.7,758.3 L490.5,757.6 L491.2,758.3 L491.9,760.2 L492.6,760.9 L493.3,761.1 L494.0,761.2 L494.8,761.5 L495.5,763.6 L496.2,764.4 L496.9,764.8 L497.6,765.0 L498.2,764.9 L498.9,765.9 L499.6,767.5 L500.3,767.7 L501.0,768.3 L501.7,768.9 L502.3,769.8 L503.0,769.3 L503.7,770.3 L504.3,770.7 L505.0,772.6 L505.7,772.7 L506.3,774.1 L507.0,776.0 L507.6,775.9 L508.3,775.9 L508.9,776.9 L509.6,777.5 L510.2,777.5 L510.8,779.0 L511.5,781.5 L512.1,781.4 L512.7,781.8 L513.4,781.6 L514.0,782.9 L514.6,782.7 L515.2,783.1 L515.8,785.6 L516.5,785.6 L517.1,787.6 L517.7,789.6 L518.3,790.0 L518.9,790.8 L519.5,792.8 L520.1,792.4 L520.7,792.1 L521.3,791.6 L521.9,792.8 L522.5,795.2 L523.1,796.4 L523.7,795.8 L524.2,795.8 L524.8,796.4 L525.4,797.8 L526.0,798.5 L526.6,799.6 L527.1,800.7 L527.7,801.1 L528.3,801.9 L528.8,802.9 L529.4,803.6 L530.0,804.9 L530.5,807.3 L531.1,807.8 L531.6,807.9 L532.2,806.7 L532.7,808.2 L533.3,807.2 L533.8,807.4 L534.4,810.0 L534.9,811.7 L535.5,812.2 L536.0,811.3 L536.6,812.4 L537.1,813.0 L537.6,815.0 L538.2,818.2 L538.7,818.3 L539.2,817.7 L539.8,817.3 L540.3,818.4 L540.8,819.3 L541.3,819.2 L541.9,820.7 L542.4,820.6 L542.9,823.2 L543.4,825.0 L543.9,826.4 L544.4,826.0 L544.9,827.1 L545.5,827.4 L546.0,827.6 L546.5,828.1 L547.0,827.8 L547.5,827.7 L548.0,830.3 L548.5,831.2 L549.0,832.4 L549.5,834.3 L550.0,832.9 L550.5,833.4 L550.9,835.0 L551.4,836.5 L551.9,837.0 L552.4,839.0 L552.9,839.7 L553.4,839.0 L553.9,839.1 L554.3,841.4 L554.8,842.7 L555.3,841.3 L555.8,844.2 L556.2,845.5 L556.7,847.4 L557.2,847.0 L557.7,847.2 L558.1,846.8 L558.6,850.7 L559.1,850.5 L559.5,852.6 L560.0,851.8 L560.4,852.5 L560.9,851.3 L561.4,852.3 L561.8,854.7 L562.3,854.0 L562.7,856.5 L563.2,857.5 L563.6,856.9 L564.1,857.5 L564.5,858.2 L565.0,859.5 L565.4,860.0 L565.9,860.3 L566.3,861.4 L566.8,861.5 L567.2,861.6 L567.7,863.5 L568.1,866.0 L568.5,865.0 L569.0,866.5 L569.4,867.0 L569.8,867.2 L570.3,869.9 L570.7,870.2 L571.1,873.3 L571.6,872.5 L572.0,873.9 L572.4,874.3 L572.8,874.1 L573.3,876.2 L573.7,876.8 L574.1,878.5 L574.5,879.0 L575.0,878.1 L575.4,879.3 L575.8,880.6 L576.2,883.1 L576.6,882.2 L577.0,883.2 L577.4,881.7 L577.9,884.6 L578.3,884.2 L578.7,883.1 L579.1,885.4 L579.5,889.0 L579.9,887.4 L580.3,887.4 L580.7,888.3 L581.1,888.5 L581.5,891.4 L581.9,891.6 L582.3,892.2 L582.7,895.0 L583.1,894.8 L583.5,897.0 L583.9,896.3 L584.3,895.8 L584.7,894.9 L585.1,900.9 L585.5,901.1 L585.9,902.6 L586.3,903.4 L586.7,904.5 L587.0,905.3 L587.4,909.8 L587.8,907.1 L588.2,904.9 L588.6,905.0 L589.0,904.7 L589.4,908.9 L589.7,912.1 L590.1,910.9 L590.5,909.8 L590.9,911.5 L591.3,916.6 L591.6,911.5 L592.0,915.6 L592.4,915.2 L592.8,919.9 L593.1,918.5 L593.5,919.9 L593.9,918.5 L594.2,919.2 L594.6,925.3 L595.0,928.3 L595.3,927.7 L595.7,926.6 L596.1,924.1 L596.4,926.4 L596.8,929.2 L597.2,931.2 L597.5,932.8 L597.9,931.7 L598.3,934.1 L598.6,936.1 L599.0,941.4 L599.3,947.0 L599.7,945.0 L600.0,942.5 L600.4,943.5 L600.8,943.0 L601.1,942.8 L601.5,945.1 L601.8,944.1 L602.2,948.8 L602.5,950.1 L602.9,952.4 L603.2,953.0 L603.6,952.1 L603.9,951.4 L604.3,953.7 L604.6,954.6 L605.0,958.1 L605.3,960.1 L605.6,957.2 L606.0,960.7 L606.3,958.6 L606.7,960.3 L607.0,962.9 L607.4,958.9 L607.7,964.4 L608.0,968.7 L608.4,970.7 L608.7,971.4 L609.0,972.6 L609.4,971.5 L609.7,974.1 L610.0,975.1 L610.4,979.0 L610.7,976.5 L611.0,981.5 L611.4,984.9 L611.7,986.3 L612.0,986.3 L612.4,991.6 L612.7,985.0 L613.0,991.5 L613.4,995.2 L613.7,998.4 L614.0,1001.6 L614.3,998.5 L614.7,999.4 L615.0,1005.6 L615.3,1009.0 L615.6,1010.4 L615.9,1002.0 L616.3,1009.3 L616.6,1019.0 L616.9,1025.0 L617.2,1023.9 L617.5,1012.1 L617.9,1022.2 L618.2,1021.8 L618.5,1007.2 L618.8,1017.1 L619.1,1012.2 L619.4,1011.1 L619.8,1015.2 L620.1,1032.0 L620.4,1031.2 L620.7,1036.6 L621.0,1055.0 L621.3,1067.8 L621.6,1057.0 L621.9,1050.7 L622.2,1039.0 L622.5,1038.1" stroke="#00a0ff"/>
<path d="M124.4,580.0 L128.9,580.7 L133.3,581.4 L137.6,582.0 L141.7,582.7 L145.8,583.2 L149.7,583.8 L153.5,584.5 L157.3,584.9 L160.9,585.3 L164.5,585.8 L168.0,586.5 L171.4,587.2 L174.7,587.9 L178.0,588.6 L181.2,589.4 L184.3,590.0 L187.4,590.6 L190.4,591.0 L193.4,591.4 L196.3,591.9 L199.1,592.6 L201.9,593.2 L204.6,593.9 L207.3,594.5 L210.0,595.1 L212.6,595.5 L215.2,596.2 L217.7,596.8 L220.2,597.5 L222.6,597.8 L225.0,598.4 L227.4,598.8 L229.7,599.3 L232.0,600.0 L234.2,600.1 L236.5,600.6 L238.7,601.8 L240.8,602.6 L243.0,603.6 L245.1,604.0 L247.1,604.5 L249.2,604.7 L251.2,605.2 L253.2,606.0 L255.2,606.0 L257.1,606.7 L259.0,607.1 L260.9,607.6 L262.8,608.8 L264.7,609.6 L266.5,610.0 L268.3,610.8 L270.1,611.4 L271.8,611.6 L273.6,612.0 L275.3,612.2 L277.0,612.5 L278.7,613.0 L280.4,612.9 L282.0,613.2 L283.7,613.7 L285.3,614.6 L286.9,615.2 L288.5,615.9 L290.0,616.8 L291.6,617.8 L293.1,618.5 L294.7,618.6 L296.2,619.0 L297.7,620.0 L299.1,620.3 L300.6,621.2 L302.0,622.2 L303.5,623.4 L304.9,623.7 L306.3,623.7 L307.7,623.8 L309.1,623.9 L310.5,624.4 L311.8,625.3 L313.2,626.2 L314.5,627.3 L315.8,628.3 L317.1,629.3 L318.5,629.4 L319.7,629.8 L321.0,630.1 L322.3,630.7 L323.6,631.1 L324.8,631.6 L326.0,632.4 L327.3,632.9 L328.5,633.9 L329.7,634.5 L330.9,635.2 L332.1,635.2 L333.3,635.9 L334.4,636.0 L335.6,636.1 L336.8,637.0 L337.9,637.6 L339.1,638.5 L340.2,639.9 L341.3,640.2 L342.4,640.6 L343.5,641.5 L344.6,642.4 L345.7,643.0 L346.8,643.6 L347.9,644.5 L348.9,645.2 L350.0,645.4 L351.1,646.1 L352.1,646.7 L353.1,647.0 L354.2,647.9 L355.2,648.3 L356.2,649.3 L357.2,649.9 L358.2,650.5 L359.2,650.9 L360.2,651.5 L361.2,651.4 L362.2,651.8 L363.2,652.7 L364.1,652.6 L365.1,653.7 L366.0,653.7 L367.0,654.7 L367.9,655.0 L368.9,655.9 L369.8,656.6 L370.7,656.7 L371.6,658.0 L372.6,659.1 L373.5,659.5 L374.4,660.0 L375.3,660.5 L376.2,660.8 L377.1,661.9 L377.9,662.0 L378.8,662.3 L379.7,662.4 L380.6,662.6 L381.4,662.6 L382.3,663.8 L383.1,664.0 L384.0,664.9 L384.8,665.8 L385.7,666.4 L386.5,667.4 L387.3,667.9 L388.2,668.6 L389.0,669.0 L389.8,669.5 L390.6,669.5 L391.4,669.9 L392.2,671.4 L393.0,671.6 L393.8,671.7 L394.6,672.6 L395.4,673.8 L396.2,673.5 L397.0,674.1 L397.7,674.6 L398.5,675.2 L399.3,677.0 L400.1,678.2 L400.8,678.8 L401.6,678.8 L402.3,679.5 L403.1,679.6 L403.8,680.0 L404.6,680.0 L405.3,680.1 L406.0,681.5 L406.8,681.6 L407.5,682.2 L408.2,682.9 L408.9,683.5 L409.7,684.1 L410.4,685.2 L411.1,685.8 L411.8,686.5 L412.5,687.3 L413.2,688.2 L413.9,688.7 L414.6,689.0 L415.3,688.9 L416.0,688.7 L416.7,689.7 L417.4,690.6 L418.0,690.9 L418.7,691.6 L419.4,692.4 L420.1,693.1 L420.7,693.8 L421.4,693.8 L422.1,695.0 L422.7,694.6 L423.4,695.6 L424.0,696.3 L424.7,697.1 L425.3,698.3 L426.0,699.1 L426.6,698.3 L427.3,697.8 L427.9,698.9 L428.5,698.9 L429.2,699.5 L429.8,700.6 L430.4,700.1 L431.0,699.8 L431.7,700.9 L432.3,701.7 L432.9,702.2 L433.5,702.8 L434.1,702.9 L434.7,702.8 L435.3,703.5 L436.0,703.8 L436.6,703.8 L437.2,705.0 L437.8,705.6 L438.3,706.4 L438.9,706.4 L439.5,706.7 L440.1,706.8 L440.7,707.2 L441.3,708.1 L441.9,708.3 L442.5,709.2 L443.0,709.9 L443.6,711.4 L444.2,710.6 L444.8,711.6 L445.3,711.8 L445.9,712.1 L446.5,711.8 L447.0,712.3 L447.6,713.4 L448.1,713.9 L448.7,714.4 L449.3,714.7 L449.8,715.9 L450.4,716.1 L450.9,715.3 L451.5,715.8 L452.0,715.6 L452.5,715.0 L453.1,716.2 L453.6,718.2 L453.7,718.5 L454.6,718.8 L455.5,719.4 L456.4,721.3 L457.3,722.2 L458.2,723.0 L459.1,723.7 L460.0,724.6 L460.9,725.9 L461.8,726.8 L462.7,727.6 L463.5,727.6 L464.4,728.8 L465.3,729.2 L466.1,730.9 L467.0,730.8 L467.8,731.7 L468.6,732.7 L469.5,732.8 L470.3,735.0 L471.1,736.6 L471.9,736.6 L472.8,737.7 L473.6,738.5 L474.4,737.4 L475.2,738.8 L476.0,739.8 L476.8,740.9 L477.6,741.1 L478.4,742.0 L479.2,743.0 L479.9,744.8 L480.7,745.7 L481.5,746.3 L482.2,748.1 L483.0,748.0 L483.8,748.4 L484.5,748.0 L485.3,750.3 L486.0,751.6 L486.8,752.7 L487.5,754.7 L488.3,757.0 L489.0,757.0 L489.7,755.5 L490.5,754.8 L491.2,755.5 L491.9,757.3 L492.6,757.9 L493.3,758.2 L494.0,758.2 L494.8,758.5 L495.5,760.6 L496.2,761.3 L496.9,761.7 L497.6,761.9 L498.2,761.8 L498.9,762.7 L499.6,764.3 L500.3,764.5 L501.0,765.1 L501.7,765.7 L502.3,766.5 L503.0,766.0 L503.7,767.0 L504.3,767.4 L505.0,769.2 L505.7,769.3 L506.3,770.6 L507.0,772.5 L507.6,772.4 L508.3,772.4 L508.9,773.3 L509.6,773.9 L510.2,773.9 L510.8,775.3 L511.5,777.7 L512.1,777.6 L512.7,777.9 L513.4,777.7 L514.0,779.0 L514.6,778.9 L515.2,779.2 L515.8,781.6 L516.5,781.6 L517.1,783.5 L517.7,785.3 L518.3,785.7 L518.9,786.5 L519.5,788.4 L520.1,788.0 L520.7,787.7 L521.3,787.2 L521.9,788.4 L522.5,790.6 L523.1,791.8 L523.7,791.2 L524.2,791.2 L524.8,791.7 L525.4,793.1 L526.0,793.7 L526.6,794.8 L527.1,795.8 L527.7,796.2 L528.3,796.9 L528.8,797.9 L529.4,798.5 L530.0,799.7 L530.5,802.0 L531.1,802.5 L531.6,802.6 L532.2,801.4 L532.7,802.8 L533.3,801.9 L533.8,802.1 L534.4,804.5 L534.9,806.1 L535.5,806.6 L536.0,805.7 L536.6,806.7 L537.1,807.3 L537.6,809.1 L538.2,812.0 L538.7,812.2 L539.2,811.6 L539.8,811.2 L540.3,812.3 L540.8,813.1 L541.3,813.0 L541.9,814.4 L542.4,814.3 L542.9,816.7 L543.4,818.3 L543.9,819.6 L544.4,819.2 L544.9,820.2 L545.5,820.5 L546.0,820.7 L546.5,821.2 L547.0,820.9 L547.5,820.8 L548.0,823.2 L548.5,823.9 L549.0,825.1 L549.5,826.8 L550.0,825.5 L550.5,826.0 L550.9,827.4 L551.4,828.8 L551.9,829.2 L552.4,831.0 L552.9,831.7 L553.4,831.0 L553.9,831.1 L554.3,833.1 L554.8,834.3 L555.3,833.1 L555.8,835.7 L556.2,836.8 L556.7,838.5 L557.2,838.2 L557.7,838.3 L558.1,838.0 L558.6,841.5 L559.1,841.3 L559.5,843.2 L560.0,842.4 L560.4,843.1 L560.9,842.0 L561.4,842.9 L561.8,845.0 L562.3,844.4 L562.7,846.6 L563.2,847.5 L563.6,847.0 L564.1,847.5 L564.5,848.1 L565.0,849.2 L565.4,849.6 L565.9,849.9 L566.3,850.8 L566.8,851.0 L567.2,851.0 L567.7,852.6 L568.1,854.9 L568.5,854.0 L569.0,855.3 L569.4,855.7 L569.8,855.9 L570.3,858.2 L570.7,858.4 L571.1,861.1 L571.6,860.4 L572.0,861.6 L572.4,861.9 L572.8,861.8 L573.3,863.5 L573.7,864.0 L574.1,865.5 L574.5,865.9 L575.0,865.2 L575.4,866.2 L575.8,867.3 L576.2,869.3 L576.6,868.6 L577.0,869.4 L577.4,868.2 L577.9,870.6 L578.3,870.2 L578.7,869.4 L579.1,871.3 L579.5,874.2 L579.9,872.9 L580.3,872.9 L580.7,873.6 L581.1,873.9 L581.5,876.2 L581.9,876.3 L582.3,876.8 L582.7,879.1 L583.1,879.0 L583.5,880.8 L583.9,880.2 L584.3,879.8 L584.7,879.0 L585.1,883.9 L585.5,884.0 L585.9,885.2 L586.3,885.8 L586.7,886.7 L587.0,887.4 L587.4,890.9 L587.8,888.8 L588.2,887.0 L588.6,887.1 L589.0,886.9 L589.4,890.2 L589.7,892.7 L590.1,891.7 L590.5,890.9 L590.9,892.2 L591.3,896.1 L591.6,892.2 L592.0,895.3 L592.4,895.0 L592.8,898.6 L593.1,897.6 L593.5,898.6 L593.9,897.6 L594.2,898.1 L594.6,902.7 L595.0,904.9 L595.3,904.4 L595.7,903.6 L596.1,901.8 L596.4,903.5 L596.8,905.5 L597.2,907.0 L597.5,908.1 L597.9,907.3 L598.3,909.1 L598.6,910.5 L599.0,914.2 L599.3,918.1 L599.7,916.7 L600.0,915.0 L600.4,915.7 L600.8,915.4 L601.1,915.2 L601.5,916.8 L601.8,916.1 L602.2,919.3 L602.5,920.2 L602.9,921.8 L603.2,922.1 L603.6,921.6 L603.9,921.1 L604.3,922.6 L604.6,923.2 L605.0,925.5 L605.3,926.8 L605.6,924.9 L606.0,927.2 L606.3,925.8 L606.7,926.9 L607.0,928.6 L607.4,926.0 L607.7,929.6 L608.0,932.2 L608.4,933.4 L608.7,933.9 L609.0,934.6 L609.4,933.9 L609.7,935.5 L610.0,936.1 L610.4,938.4 L610.7,936.9 L611.0,939.9 L611.4,941.8 L611.7,942.6 L612.0,942.6 L612.4,945.5 L612.7,941.8 L613.0,945.5 L613.4,947.4 L613.7,949.1 L614.0,950.7 L614.3,949.1 L614.7,949.6 L615.0,952.8 L615.3,954.4 L615.6,955.1 L615.9,950.9 L616.3,954.6 L616.6,959.1 L616.9,961.8 L617.2,961.3 L617.5,955.9 L617.9,960.5 L618.2,960.4 L618.5,953.5 L618.8,958.3 L619.1,955.9 L619.4,955.4 L619.8,957.4 L620.1,964.7 L620.4,964.4 L620.7,966.6 L621.0,973.3 L621.3,977.4 L621.6,974.0 L621.9,971.8 L622.2,967.5 L622.5,967.1" stroke="#00eeff"/>
<path d="M124.4,579.7 L128.9,580.4 L133.3,581.1 L137.6,581.8 L141.7,582.4 L145.8,583.0 L149.7,583.6 L153.5,584.2 L157.3,584.6 L160.9,585.0 L164.5,585.5 L168.0,586.2 L171.4,586.9 L174.7,587.6 L178.0,588.3 L181.2,589.1 L184.3,589.7 L187.4,590.3 L190.4,590.6 L193.4,591.1 L196.3,591.5 L199.1,592.2 L201.9,592.8 L204.6,593.5 L207.3,594.2 L210.0,594.8 L212.6,595.2 L215.2,595.8 L217.7,596.5 L220.2,597.1 L222.6,597.5 L225.0,598.0 L227.4,598.5 L229.7,598.9 L232.0,599.6 L234.2,599.7 L236.5,600.3 L238.7,601.4 L240.8,602.2 L243.0,603.2 L245.1,603.7 L247.1,604.1 L249.2,604.3 L251.2,604.9 L253.2,605.6 L255.2,605.6 L257.1,606.3 L259.0,606.7 L260.9,607.2 L262.8,608.4 L264.7,609.2 L266.5,609.6 L268.3,610.4 L270.1,611.0 L271.8,611.2 L273.6,611.6 L275.3,611.8 L277.0,612.1 L278.7,612.6 L280.4,612.5 L282.0,612.7 L283.7,613.3 L285.3,614.2 L286.9,614.7 L288.5,615.5 L290.0,616.4 L291.6,617.3 L293.1,618.1 L294.7,618.2 L296.2,618.5 L297.7,619.5 L299.1,619.9 L300.6,620.7 L302.0,621.7 L303.5,622.9 L304.9,623.3 L306.3,623.3 L307.7,623.3 L309.1,623.4 L310.5,624.0 L311.8,624.8 L313.2,625.7 L314.5,626.8 L315.8,627.8 L317.1,628.8 L318.5,628.9 L319.7,629.3 L321.0,629.5 L322.3,630.2 L323.6,630.5 L324.8,631.0 L326.0,631.9 L327.3,632.4 L328.5,633.4 L329.7,634.0 L330.9,634.6 L332.1,634.7 L333.3,635.3 L334.4,635.4 L335.6,635.6 L336.8,636.4 L337.9,637.0 L339.1,638.0 L340.2,639.3 L341.3,639.6 L342.4,640.0 L343.5,640.9 L344.6,641.7 L345.7,642.3 L346.8,643.0 L347.9,643.9 L348.9,644.6 L350.0,644.7 L351.1,645.4 L352.1,646.1 L353.1,646.4 L354.2,647.2 L355.2,647.6 L356.2,648.6 L357.2,649.3 L358.2,649.8 L359.2,650.2 L360.2,650.8 L361.2,650.7 L362.2,651.1 L363.2,652.0 L364.1,651.9 L365.1,653.0 L366.0,653.0 L367.0,654.0 L367.9,654.3 L368.9,655.2 L369.8,655.9 L370.7,655.9 L371.6,657.2 L372.6,658.4 L373.5,658.8 L374.4,659.2 L375.3,659.7 L376.2,660.0 L377.1,661.1 L377.9,661.2 L378.8,661.5 L379.7,661.6 L380.6,661.8 L381.4,661.8 L382.3,663.0 L383.1,663.2 L384.0,664.0 L384.8,664.9 L385.7,665.6 L386.5,666.6 L387.3,667.1 L388.2,667.7 L389.0,668.1 L389.8,668.6 L390.6,668.6 L391.4,669.0 L392.2,670.5 L393.0,670.7 L393.8,670.8 L394.6,671.7 L395.4,672.9 L396.2,672.6 L397.0,673.2 L397.7,673.7 L398.5,674.2 L399.3,676.0 L400.1,677.2 L400.8,677.8 L401.6,677.8 L402.3,678.5 L403.1,678.6 L403.8,678.9 L404.6,679.0 L405.3,679.1 L406.0,680.4 L406.8,680.6 L407.5,681.2 L408.2,681.9 L408.9,682.4 L409.7,683.0 L410.4,684.1 L411.1,684.7 L411.8,685.4 L412.5,686.1 L413.2,687.1 L413.9,687.6 L414.6,687.9 L415.3,687.8 L416.0,687.5 L416.7,688.6 L417.4,689.4 L418.0,689.7 L418.7,690.4 L419.4,691.2 L420.1,691.9 L420.7,692.6 L421.4,692.6 L422.1,693.8 L422.7,693.4 L423.4,694.3 L424.0,695.0 L424.7,695.8 L425.3,697.0 L426.0,697.8 L426.6,697.0 L427.3,696.5 L427.9,697.6 L428.5,697.6 L429.2,698.2 L429.8,699.2 L430.4,698.8 L431.0,698.5 L431.7,699.6 L432.3,700.3 L432.9,700.8 L433.5,701.4 L434.1,701.5 L434.7,701.4 L435.3,702.2 L436.0,702.4 L436.6,702.4 L437.2,703.6 L437.8,704.2 L438.3,705.0 L438.9,704.9 L439.5,705.2 L440.1,705.4 L440.7,705.7 L441.3,706.6 L441.9,706.8 L442.5,707.7 L443.0,708.4 L443.6,709.8 L444.2,709.1 L444.8,710.0 L445.3,710.2 L445.9,710.6 L446.5,710.2 L447.0,710.7 L447.6,711.9 L448.1,712.3 L448.7,712.8 L449.3,713.1 L449.8,714.2 L450.4,714.5 L450.9,713.7 L451.5,714.2 L452.0,714.0 L452.5,713.4 L453.1,714.6 L453.6,716.6 L453.7,716.8 L454.6,717.1 L455.5,717.7 L456.4,719.5 L457.3,720.4 L458.2,721.2 L459.1,721.9 L460.0,722.8 L460.9,724.0 L461.8,725.0 L462.7,725.7 L463.5,725.7 L464.4,726.9 L465.3,727.3 L466.1,728.9 L467.0,728.8 L467.8,729.7 L468.6,730.6 L469.5,730.7 L470.3,732.9 L471.1,734.4 L471.9,734.5 L472.8,735.6 L473.6,736.3 L474.4,735.2 L475.2,736.6 L476.0,737.6 L476.8,738.6 L477.6,738.8 L478.4,739.7 L479.2,740.7 L479.9,742.5 L480.7,743.3 L481.5,743.9 L482.2,745.6 L483.0,745.6 L483.8,745.9 L484.5,745.5 L485.3,747.8 L486.0,749.0 L486.8,750.1 L487.5,752.0 L488.3,754.2 L489.0,754.2 L489.7,752.7 L490.5,752.1 L491.2,752.8 L491.9,754.5 L492.6,755.1 L493.3,755.4 L494.0,755.4 L494.8,755.7 L495.5,757.7 L496.2,758.4 L496.9,758.7 L497.6,759.0 L498.2,758.8 L498.9,759.7 L499.6,761.2 L500.3,761.5 L501.0,762.0 L501.7,762.5 L502.3,763.4 L503.0,762.9 L503.7,763.8 L504.3,764.2 L505.0,765.9 L505.7,766.0 L506.3,767.3 L507.0,769.0 L507.6,769.0 L508.3,769.0 L508.9,769.8 L509.6,770.4 L510.2,770.4 L510.8,771.7 L511.5,774.0 L512.1,774.0 L512.7,774.3 L513.4,774.1 L514.0,775.3 L514.6,775.2 L515.2,775.5 L515.8,777.7 L516.5,777.7 L517.1,779.6 L517.7,781.3 L518.3,781.7 L518.9,782.4 L519.5,784.2 L520.1,783.8 L520.7,783.6 L521.3,783.1 L521.9,784.2 L522.5,786.3 L523.1,787.4 L523.7,786.8 L524.2,786.8 L524.8,787.4 L525.4,788.6 L526.0,789.3 L526.6,790.3 L527.1,791.2 L527.7,791.6 L528.3,792.3 L528.8,793.2 L529.4,793.8 L530.0,794.9 L530.5,797.0 L531.1,797.4 L531.6,797.6 L532.2,796.4 L532.7,797.8 L533.3,796.9 L533.8,797.1 L534.4,799.3 L534.9,800.8 L535.5,801.3 L536.0,800.5 L536.6,801.4 L537.1,802.0 L537.6,803.7 L538.2,806.4 L538.7,806.5 L539.2,806.0 L539.8,805.6 L540.3,806.6 L540.8,807.4 L541.3,807.3 L541.9,808.5 L542.4,808.5 L542.9,810.7 L543.4,812.2 L543.9,813.4 L544.4,813.0 L544.9,813.9 L545.5,814.2 L546.0,814.4 L546.5,814.8 L547.0,814.5 L547.5,814.5 L548.0,816.6 L548.5,817.3 L549.0,818.4 L549.5,820.0 L550.0,818.8 L550.5,819.2 L550.9,820.5 L551.4,821.8 L551.9,822.1 L552.4,823.8 L552.9,824.4 L553.4,823.8 L553.9,823.9 L554.3,825.7 L554.8,826.8 L555.3,825.7 L555.8,828.0 L556.2,829.1 L556.7,830.6 L557.2,830.3 L557.7,830.4 L558.1,830.1 L558.6,833.2 L559.1,833.1 L559.5,834.8 L560.0,834.1 L560.4,834.7 L560.9,833.8 L561.4,834.5 L561.8,836.4 L562.3,835.9 L562.7,837.8 L563.2,838.6 L563.6,838.2 L564.1,838.6 L564.5,839.2 L565.0,840.1 L565.4,840.5 L565.9,840.7 L566.3,841.6 L566.8,841.7 L567.2,841.8 L567.7,843.2 L568.1,845.1 L568.5,844.3 L569.0,845.5 L569.4,845.9 L569.8,846.0 L570.3,848.1 L570.7,848.3 L571.1,850.6 L571.6,850.0 L572.0,851.1 L572.4,851.3 L572.8,851.2 L573.3,852.7 L573.7,853.1 L574.1,854.4 L574.5,854.7 L575.0,854.1 L575.4,855.0 L575.8,855.9 L576.2,857.7 L576.6,857.0 L577.0,857.8 L577.4,856.7 L577.9,858.8 L578.3,858.5 L578.7,857.7 L579.1,859.4 L579.5,861.9 L579.9,860.7 L580.3,860.8 L580.7,861.4 L581.1,861.6 L581.5,863.6 L581.9,863.7 L582.3,864.1 L582.7,866.0 L583.1,865.9 L583.5,867.4 L583.9,866.9 L584.3,866.6 L584.7,865.9 L585.1,870.0 L585.5,870.1 L585.9,871.1 L586.3,871.6 L586.7,872.4 L587.0,872.9 L587.4,875.8 L587.8,874.0 L588.2,872.6 L588.6,872.7 L589.0,872.5 L589.4,875.2 L589.7,877.2 L590.1,876.5 L590.5,875.8 L590.9,876.9 L591.3,880.0 L591.6,876.8 L592.0,879.4 L592.4,879.2 L592.8,882.0 L593.1,881.2 L593.5,882.0 L593.9,881.2 L594.2,881.6 L594.6,885.3 L595.0,887.0 L595.3,886.7 L595.7,886.0 L596.1,884.5 L596.4,885.9 L596.8,887.5 L597.2,888.7 L597.5,889.6 L597.9,889.0 L598.3,890.3 L598.6,891.4 L599.0,894.3 L599.3,897.3 L599.7,896.2 L600.0,894.9 L600.4,895.4 L600.8,895.2 L601.1,895.1 L601.5,896.3 L601.8,895.8 L602.2,898.2 L602.5,898.8 L602.9,900.0 L603.2,900.3 L603.6,899.9 L603.9,899.5 L604.3,900.6 L604.6,901.1 L605.0,902.8 L605.3,903.8 L605.6,902.4 L606.0,904.1 L606.3,903.1 L606.7,903.9 L607.0,905.1 L607.4,903.2 L607.7,905.8 L608.0,907.7 L608.4,908.6 L608.7,908.9 L609.0,909.4 L609.4,908.9 L609.7,910.1 L610.0,910.5 L610.4,912.1 L610.7,911.1 L611.0,913.2 L611.4,914.5 L611.7,915.0 L612.0,915.1 L612.4,917.1 L612.7,914.5 L613.0,917.1 L613.4,918.4 L613.7,919.5 L614.0,920.6 L614.3,919.6 L614.7,919.9 L615.0,922.0 L615.3,923.1 L615.6,923.5 L615.9,920.8 L616.3,923.2 L616.6,926.1 L616.9,927.9 L617.2,927.5 L617.5,924.1 L617.9,927.1 L618.2,927.0 L618.5,922.5 L618.8,925.6 L619.1,924.1 L619.4,923.8 L619.8,925.0 L620.1,929.7 L620.4,929.5 L620.7,930.9 L621.0,935.0 L621.3,937.4 L621.6,935.4 L621.9,934.1 L622.2,931.5 L622.5,931.2" stroke="#00ff80"/>
<path d="M124.4,579.4 L128.9,580.2 L133.3,580.8 L137.6,581.5 L141.7,582.1 L145.8,582.7 L149.7,583.3 L153.5,583.9 L157.3,584.3 L160.9,584.7 L164.5,585.2 L168.0,585.9 L171.4,586.6 L174.7,587.3 L178.0,588.0 L181.2,588.8 L184.3,589.4 L187.4,590.0 L190.4,590.3 L193.4,590.8 L196.3,591.2 L199.1,591.9 L201.9,592.5 L204.6,593.2 L207.3,593.9 L210.0,594.5 L212.6,594.9 L215.2,595.5 L217.7,596.2 L220.2,596.8 L222.6,597.2 L225.0,597.7 L227.4,598.1 L229.7,598.6 L232.0,599.3 L234.2,599.3 L236.5,599.9 L238.7,601.0 L240.8,601.9 L243.0,602.8 L245.1,603.3 L247.1,603.7 L249.2,603.9 L251.2,604.5 L253.2,605.2 L255.2,605.3 L257.1,605.9 L259.0,606.3 L260.9,606.8 L262.8,608.0 L264.7,608.8 L266.5,609.2 L268.3,610.0 L270.1,610.6 L271.8,610.8 L273.6,611.2 L275.3,611.4 L277.0,611.7 L278.7,612.2 L280.4,612.1 L282.0,612.3 L283.7,612.9 L285.3,613.7 L286.9,614.3 L288.5,615.1 L290.0,615.9 L291.6,616.9 L293.1,617.6 L294.7,617.7 L296.2,618.1 L297.7,619.0 L299.1,619.4 L300.6,620.3 L302.0,621.2 L303.5,622.4 L304.9,622.8 L306.3,622.8 L307.7,622.8 L309.1,622.9 L310.5,623.5 L311.8,624.3 L313.2,625.2 L314.5,626.3 L315.8,627.3 L317.1,628.3 L318.5,628.4 L319.7,628.8 L321.0,629.0 L322.3,629.7 L323.6,630.0 L324.8,630.5 L326.0,631.3 L327.3,631.8 L328.5,632.8 L329.7,633.4 L330.9,634.0 L332.1,634.1 L333.3,634.8 L334.4,634.8 L335.6,635.0 L336.8,635.9 L337.9,636.5 L339.1,637.4 L340.2,638.8 L341.3,639.0 L342.4,639.4 L343.5,640.3 L344.6,641.1 L345.7,641.7 L346.8,642.4 L347.9,643.2 L348.9,643.9 L350.0,644.1 L351.1,644.8 L352.1,645.4 L353.1,645.7 L354.2,646.6 L355.2,646.9 L356.2,648.0 L357.2,648.6 L358.2,649.1 L359.2,649.5 L360.2,650.1 L361.2,650.0 L362.2,650.4 L363.2,651.3 L364.1,651.2 L365.1,652.3 L366.0,652.3 L367.0,653.3 L367.9,653.5 L368.9,654.4 L369.8,655.1 L370.7,655.2 L371.6,656.5 L372.6,657.6 L373.5,658.0 L374.4,658.4 L375.3,659.0 L376.2,659.2 L377.1,660.3 L377.9,660.4 L378.8,660.7 L379.7,660.8 L380.6,661.0 L381.4,661.0 L382.3,662.1 L383.1,662.4 L384.0,663.2 L384.8,664.1 L385.7,664.8 L386.5,665.7 L387.3,666.2 L388.2,666.8 L389.0,667.2 L389.8,667.7 L390.6,667.7 L391.4,668.2 L392.2,669.6 L393.0,669.8 L393.8,669.9 L394.6,670.8 L395.4,671.9 L396.2,671.7 L397.0,672.2 L397.7,672.8 L398.5,673.3 L399.3,675.0 L400.1,676.2 L400.8,676.8 L401.6,676.8 L402.3,677.5 L403.1,677.6 L403.8,677.9 L404.6,678.0 L405.3,678.1 L406.0,679.4 L406.8,679.6 L407.5,680.2 L408.2,680.8 L408.9,681.3 L409.7,681.9 L410.4,683.1 L411.1,683.6 L411.8,684.3 L412.5,685.0 L413.2,686.0 L413.9,686.5 L414.6,686.8 L415.3,686.7 L416.0,686.4 L416.7,687.4 L417.4,688.3 L418.0,688.6 L418.7,689.3 L419.4,690.0 L420.1,690.7 L420.7,691.4 L421.4,691.4 L422.1,692.5 L422.7,692.1 L423.4,693.1 L424.0,693.8 L424.7,694.5 L425.3,695.7 L426.0,696.5 L426.6,695.8 L427.3,695.3 L427.9,696.4 L428.5,696.3 L429.2,696.9 L429.8,697.9 L430.4,697.5 L431.0,697.2 L431.7,698.3 L432.3,699.0 L432.9,699.5 L433.5,700.1 L434.1,700.2 L434.7,700.1 L435.3,700.8 L436.0,701.0 L436.6,701.0 L437.2,702.2 L437.8,702.8 L438.3,703.6 L438.9,703.5 L439.5,703.8 L440.1,704.0 L440.7,704.3 L441.3,705.2 L441.9,705.4 L442.5,706.2 L443.0,706.9 L443.6,708.3 L444.2,707.6 L444.8,708.5 L445.3,708.7 L445.9,709.1 L446.5,708.7 L447.0,709.2 L447.6,710.3 L448.1,710.7 L448.7,711.2 L449.3,711.5 L449.8,712.7 L450.4,712.9 L450.9,712.1 L451.5,712.6 L452.0,712.4 L452.5,711.8 L453.1,713.0 L453.6,714.9 L453.7,715.2 L454.6,715.4 L455.5,716.0 L456.4,717.8 L457.3,718.7 L458.2,719.4 L459.1,720.2 L460.0,721.0 L460.9,722.2 L461.8,723.1 L462.7,723.8 L463.5,723.8 L464.4,725.0 L465.3,725.4 L466.1,727.0 L467.0,726.9 L467.8,727.8 L468.6,728.7 L469.5,728.8 L470.3,730.9 L471.1,732.4 L471.9,732.4 L472.8,733.4 L473.6,734.2 L474.4,733.1 L475.2,734.5 L476.0,735.4 L476.8,736.4 L477.6,736.6 L478.4,737.5 L479.2,738.4 L479.9,740.2 L480.7,741.0 L481.5,741.6 L482.2,743.2 L483.0,743.2 L483.8,743.5 L484.5,743.1 L485.3,745.3 L486.0,746.5 L486.8,747.5 L487.5,749.4 L488.3,751.5 L489.0,751.5 L489.7,750.1 L490.5,749.4 L491.2,750.1 L491.9,751.8 L492.6,752.4 L493.3,752.6 L494.0,752.7 L494.8,752.9 L495.5,754.9 L496.2,755.5 L496.9,755.9 L497.6,756.1 L498.2,756.0 L498.9,756.9 L499.6,758.3 L500.3,758.5 L501.0,759.0 L501.7,759.6 L502.3,760.3 L503.0,759.9 L503.7,760.8 L504.3,761.2 L505.0,762.8 L505.7,762.9 L506.3,764.1 L507.0,765.8 L507.6,765.7 L508.3,765.7 L508.9,766.5 L509.6,767.1 L510.2,767.1 L510.8,768.4 L511.5,770.6 L512.1,770.5 L512.7,770.8 L513.4,770.6 L514.0,771.8 L514.6,771.6 L515.2,771.9 L515.8,774.1 L516.5,774.1 L517.1,775.8 L517.7,777.5 L518.3,777.8 L518.9,778.5 L519.5,780.2 L520.1,779.9 L520.7,779.7 L521.3,779.2 L521.9,780.2 L522.5,782.2 L523.1,783.3 L523.7,782.7 L524.2,782.7 L524.8,783.3 L525.4,784.4 L526.0,785.0 L526.6,786.0 L527.1,786.9 L527.7,787.2 L528.3,787.9 L528.8,788.7 L529.4,789.3 L530.0,790.3 L530.5,792.3 L531.1,792.7 L531.6,792.8 L532.2,791.8 L532.7,793.1 L533.3,792.2 L533.8,792.4 L534.4,794.5 L534.9,795.9 L535.5,796.3 L536.0,795.6 L536.6,796.5 L537.1,797.0 L537.6,798.6 L538.2,801.1 L538.7,801.2 L539.2,800.7 L539.8,800.4 L540.3,801.3 L540.8,802.0 L541.3,801.9 L541.9,803.1 L542.4,803.1 L542.9,805.1 L543.4,806.5 L543.9,807.6 L544.4,807.3 L544.9,808.1 L545.5,808.4 L546.0,808.5 L546.5,808.9 L547.0,808.7 L547.5,808.6 L548.0,810.6 L548.5,811.3 L549.0,812.2 L549.5,813.7 L550.0,812.6 L550.5,813.0 L550.9,814.2 L551.4,815.4 L551.9,815.7 L552.4,817.2 L552.9,817.8 L553.4,817.2 L553.9,817.3 L554.3,819.0 L554.8,820.0 L555.3,819.0 L555.8,821.1 L556.2,822.0 L556.7,823.4 L557.2,823.1 L557.7,823.3 L558.1,823.0 L558.6,825.8 L559.1,825.7 L559.5,827.2 L560.0,826.6 L560.4,827.1 L560.9,826.3 L561.4,827.0 L561.8,828.7 L562.3,828.2 L562.7,830.0 L563.2,830.7 L563.6,830.3 L564.1,830.7 L564.5,831.2 L565.0,832.0 L565.4,832.4 L565.9,832.6 L566.3,833.4 L566.8,833.5 L567.2,833.5 L567.7,834.8 L568.1,836.5 L568.5,835.8 L569.0,836.9 L569.4,837.2 L569.8,837.3 L570.3,839.2 L570.7,839.3 L571.1,841.4 L571.6,840.9 L572.0,841.8 L572.4,842.0 L572.8,841.9 L573.3,843.2 L573.7,843.6 L574.1,844.7 L574.5,845.0 L575.0,844.5 L575.4,845.3 L575.8,846.1 L576.2,847.6 L576.6,847.0 L577.0,847.7 L577.4,846.8 L577.9,848.6 L578.3,848.3 L578.7,847.7 L579.1,849.1 L579.5,851.2 L579.9,850.3 L580.3,850.3 L580.7,850.8 L581.1,851.0 L581.5,852.7 L581.9,852.8 L582.3,853.2 L582.7,854.8 L583.1,854.7 L583.5,856.0 L583.9,855.6 L584.3,855.4 L584.7,854.8 L585.1,858.3 L585.5,858.4 L585.9,859.2 L586.3,859.6 L586.7,860.3 L587.0,860.7 L587.4,863.2 L587.8,861.7 L588.2,860.5 L588.6,860.5 L589.0,860.4 L589.4,862.7 L589.7,864.4 L590.1,863.8 L590.5,863.2 L590.9,864.1 L591.3,866.8 L591.6,864.1 L592.0,866.2 L592.4,866.0 L592.8,868.4 L593.1,867.8 L593.5,868.5 L593.9,867.8 L594.2,868.1 L594.6,871.2 L595.0,872.6 L595.3,872.3 L595.7,871.8 L596.1,870.5 L596.4,871.7 L596.8,873.0 L597.2,874.0 L597.5,874.7 L597.9,874.2 L598.3,875.3 L598.6,876.2 L599.0,878.6 L599.3,880.9 L599.7,880.1 L600.0,879.0 L600.4,879.5 L600.8,879.3 L601.1,879.2 L601.5,880.2 L601.8,879.7 L602.2,881.7 L602.5,882.2 L602.9,883.2 L603.2,883.4 L603.6,883.1 L603.9,882.8 L604.3,883.7 L604.6,884.0 L605.0,885.4 L605.3,886.1 L605.6,885.0 L606.0,886.4 L606.3,885.6 L606.7,886.2 L607.0,887.2 L607.4,885.7 L607.7,887.7 L608.0,889.3 L608.4,889.9 L608.7,890.2 L609.0,890.6 L609.4,890.2 L609.7,891.1 L610.0,891.4 L610.4,892.7 L610.7,891.9 L611.0,893.5 L611.4,894.5 L611.7,894.9 L612.0,895.0 L612.4,896.5 L612.7,894.6 L613.0,896.5 L613.4,897.5 L613.7,898.4 L614.0,899.2 L614.3,898.4 L614.7,898.6 L615.0,900.2 L615.3,901.0 L615.6,901.4 L615.9,899.3 L616.3,901.1 L616.6,903.3 L616.9,904.6 L617.2,904.3 L617.5,901.7 L617.9,904.0 L618.2,903.9 L618.5,900.6 L618.8,902.9 L619.1,901.8 L619.4,901.5 L619.8,902.5 L620.1,905.9 L620.4,905.8 L620.7,906.8 L621.0,909.7 L621.3,911.5 L621.6,910.0 L621.9,909.1 L622.2,907.2 L622.5,907.0" stroke="#10ff00"/>
<path d="M124.4,579.2 L128.9,579.9 L133.3,580.6 L137.6,581.2 L141.7,581.9 L145.8,582.4 L149.7,583.0 L153.5,583.6 L157.3,584.0 L160.9,584.4 L164.5,584.9 L168.0,585.6 L171.4,586.3 L174.7,587.0 L178.0,587.7 L181.2,588.5 L184.3,589.1 L187.4,589.6 L190.4,590.0 L193.4,590.4 L196.3,590.9 L199.1,591.6 L201.9,592.2 L204.6,592.9 L207.3,593.5 L210.0,594.2 L212.6,594.5 L215.2,595.2 L217.7,595.8 L220.2,596.5 L222.6,596.8 L225.0,597.3 L227.4,597.8 L229.7,598.2 L232.0,598.9 L234.2,599.0 L236.5,599.5 L238.7,600.7 L240.8,601.5 L243.0,602.4 L245.1,602.9 L247.1,603.4 L249.2,603.6 L251.2,604.1 L253.2,604.8 L255.2,604.9 L257.1,605.5 L259.0,605.9 L260.9,606.4 L262.8,607.6 L264.7,608.4 L266.5,608.8 L268.3,609.6 L270.1,610.2 L271.8,610.4 L273.6,610.8 L275.3,611.0 L277.0,611.3 L278.7,611.8 L280.4,611.7 L282.0,611.9 L283.7,612.5 L285.3,613.3 L286.9,613.9 L288.5,614.6 L290.0,615.5 L291.6,616.4 L293.1,617.2 L294.7,617.3 L296.2,617.6 L297.7,618.6 L299.1,618.9 L300.6,619.8 L302.0,620.7 L303.5,621.9 L304.9,622.3 L306.3,622.3 L307.7,622.3 L309.1,622.5 L310.5,623.0 L311.8,623.8 L313.2,624.7 L314.5,625.8 L315.8,626.8 L317.1,627.8 L318.5,627.9 L319.7,628.3 L321.0,628.5 L322.3,629.1 L323.6,629.5 L324.8,630.0 L326.0,630.8 L327.3,631.3 L328.5,632.3 L329.7,632.9 L330.9,633.5 L332.1,633.5 L333.3,634.2 L334.4,634.3 L335.6,634.4 L336.8,635.3 L337.9,635.9 L339.1,636.8 L340.2,638.2 L341.3,638.4 L342.4,638.8 L343.5,639.7 L344.6,640.5 L345.7,641.1 L346.8,641.7 L347.9,642.6 L348.9,643.3 L350.0,643.5 L351.1,644.1 L352.1,644.8 L353.1,645.1 L354.2,645.9 L355.2,646.3 L356.2,647.3 L357.2,647.9 L358.2,648.5 L359.2,648.8 L360.2,649.4 L361.2,649.3 L362.2,649.7 L363.2,650.6 L364.1,650.5 L365.1,651.6 L366.0,651.6 L367.0,652.6 L367.9,652.8 L368.9,653.7 L369.8,654.4 L370.7,654.5 L371.6,655.7 L372.6,656.9 L373.5,657.2 L374.4,657.6 L375.3,658.2 L376.2,658.5 L377.1,659.5 L377.9,659.6 L378.8,659.9 L379.7,660.0 L380.6,660.2 L381.4,660.2 L382.3,661.3 L383.1,661.6 L384.0,662.4 L384.8,663.3 L385.7,663.9 L386.5,664.9 L387.3,665.4 L388.2,666.0 L389.0,666.4 L389.8,666.8 L390.6,666.9 L391.4,667.3 L392.2,668.7 L393.0,668.9 L393.8,669.0 L394.6,669.9 L395.4,671.0 L396.2,670.8 L397.0,671.3 L397.7,671.8 L398.5,672.3 L399.3,674.1 L400.1,675.3 L400.8,675.8 L401.6,675.9 L402.3,676.5 L403.1,676.6 L403.8,677.0 L404.6,677.0 L405.3,677.1 L406.0,678.4 L406.8,678.6 L407.5,679.1 L408.2,679.8 L408.9,680.3 L409.7,680.9 L410.4,682.0 L411.1,682.6 L411.8,683.3 L412.5,684.0 L413.2,684.9 L413.9,685.4 L414.6,685.7 L415.3,685.6 L416.0,685.3 L416.7,686.3 L417.4,687.2 L418.0,687.4 L418.7,688.1 L419.4,688.9 L420.1,689.6 L420.7,690.2 L421.4,690.2 L422.1,691.3 L422.7,691.0 L423.4,691.9 L424.0,692.5 L424.7,693.3 L425.3,694.5 L426.0,695.2 L426.6,694.5 L427.3,694.0 L427.9,695.1 L428.5,695.1 L429.2,695.7 L429.8,696.6 L430.4,696.2 L431.0,695.9 L431.7,697.0 L432.3,697.7 L432.9,698.2 L433.5,698.7 L434.1,698.8 L434.7,698.7 L435.3,699.5 L436.0,699.7 L436.6,699.7 L437.2,700.8 L437.8,701.4 L438.3,702.2 L438.9,702.1 L439.5,702.4 L440.1,702.6 L440.7,702.9 L441.3,703.8 L441.9,704.0 L442.5,704.8 L443.0,705.5 L443.6,706.9 L444.2,706.2 L444.8,707.0 L445.3,707.2 L445.9,707.6 L446.5,707.3 L447.0,707.7 L447.6,708.8 L448.1,709.2 L448.7,709.7 L449.3,710.0 L449.8,711.1 L450.4,711.3 L450.9,710.5 L451.5,711.0 L452.0,710.8 L452.5,710.2 L453.1,711.4 L453.6,713.3 L453.7,713.6 L454.6,713.8 L455.5,714.4 L456.4,716.1 L457.3,717.0 L458.2,717.7 L459.1,718.5 L460.0,719.2 L460.9,720.4 L461.8,721.3 L462.7,722.0 L463.5,722.0 L464.4,723.2 L465.3,723.6 L466.1,725.1 L467.0,725.0 L467.8,725.9 L468.6,726.8 L469.5,726.8 L470.3,728.9 L471.1,730.3 L471.9,730.4 L472.8,731.4 L473.6,732.1 L474.4,731.1 L475.2,732.4 L476.0,733.3 L476.8,734.3 L477.6,734.5 L478.4,735.4 L479.2,736.3 L479.9,737.9 L480.7,738.7 L481.5,739.3 L482.2,740.9 L483.0,740.8 L483.8,741.2 L484.5,740.8 L485.3,742.9 L486.0,744.1 L486.8,745.1 L487.5,746.9 L488.3,748.9 L489.0,748.9 L489.7,747.6 L490.5,746.9 L491.2,747.6 L491.9,749.2 L492.6,749.8 L493.3,750.0 L494.0,750.1 L494.8,750.3 L495.5,752.1 L496.2,752.8 L496.9,753.2 L497.6,753.4 L498.2,753.2 L498.9,754.1 L499.6,755.5 L500.3,755.7 L501.0,756.2 L501.7,756.7 L502.3,757.4 L503.0,757.0 L503.7,757.9 L504.3,758.2 L505.0,759.8 L505.7,759.9 L506.3,761.1 L507.0,762.7 L507.6,762.6 L508.3,762.6 L508.9,763.4 L509.6,763.9 L510.2,763.9 L510.8,765.1 L511.5,767.2 L512.1,767.2 L512.7,767.5 L513.4,767.3 L514.0,768.4 L514.6,768.3 L515.2,768.5 L515.8,770.6 L516.5,770.6 L517.1,772.3 L517.7,773.9 L518.3,774.2 L518.9,774.8 L519.5,776.5 L520.1,776.1 L520.7,775.9 L521.3,775.5 L521.9,776.5 L522.5,778.4 L523.1,779.4 L523.7,778.8 L524.2,778.8 L524.8,779.3 L525.4,780.5 L526.0,781.0 L526.6,781.9 L527.1,782.8 L527.7,783.1 L528.3,783.7 L528.8,784.5 L529.4,785.0 L530.0,786.0 L530.5,787.9 L531.1,788.3 L531.6,788.4 L532.2,787.4 L532.7,788.6 L533.3,787.9 L533.8,788.0 L534.4,790.0 L534.9,791.3 L535.5,791.7 L536.0,791.0 L536.6,791.8 L537.1,792.3 L537.6,793.8 L538.2,796.2 L538.7,796.3 L539.2,795.8 L539.8,795.5 L540.3,796.4 L540.8,797.0 L541.3,797.0 L541.9,798.1 L542.4,798.0 L542.9,799.9 L543.4,801.2 L543.9,802.3 L544.4,802.0 L544.9,802.7 L545.5,803.0 L546.0,803.1 L546.5,803.5 L547.0,803.2 L547.5,803.2 L548.0,805.1 L548.5,805.7 L549.0,806.6 L549.5,807.9 L550.0,806.9 L550.5,807.3 L550.9,808.4 L551.4,809.5 L551.9,809.8 L552.4,811.2 L552.9,811.7 L553.4,811.2 L553.9,811.3 L554.3,812.8 L554.8,813.7 L555.3,812.8 L555.8,814.7 L556.2,815.6 L556.7,816.9 L557.2,816.6 L557.7,816.7 L558.1,816.5 L558.6,819.1 L559.1,818.9 L559.5,820.3 L560.0,819.8 L560.4,820.3 L560.9,819.5 L561.4,820.1 L561.8,821.7 L562.3,821.3 L562.7,822.9 L563.2,823.5 L563.6,823.1 L564.1,823.5 L564.5,824.0 L565.0,824.7 L565.4,825.1 L565.9,825.2 L566.3,825.9 L566.8,826.0 L567.2,826.1 L567.7,827.2 L568.1,828.8 L568.5,828.2 L569.0,829.1 L569.4,829.4 L569.8,829.5 L570.3,831.2 L570.7,831.3 L571.1,833.2 L571.6,832.7 L572.0,833.5 L572.4,833.7 L572.8,833.6 L573.3,834.8 L573.7,835.2 L574.1,836.2 L574.5,836.4 L575.0,835.9 L575.4,836.6 L575.8,837.4 L576.2,838.7 L576.6,838.2 L577.0,838.8 L577.4,838.0 L577.9,839.6 L578.3,839.3 L578.7,838.8 L579.1,840.0 L579.5,842.0 L579.9,841.1 L580.3,841.1 L580.7,841.6 L581.1,841.7 L581.5,843.3 L581.9,843.4 L582.3,843.7 L582.7,845.1 L583.1,845.0 L583.5,846.2 L583.9,845.8 L584.3,845.6 L584.7,845.1 L585.1,848.1 L585.5,848.2 L585.9,849.0 L586.3,849.3 L586.7,849.9 L587.0,850.3 L587.4,852.4 L587.8,851.1 L588.2,850.1 L588.6,850.1 L589.0,850.0 L589.4,852.0 L589.7,853.5 L590.1,852.9 L590.5,852.4 L590.9,853.2 L591.3,855.5 L591.6,853.2 L592.0,855.1 L592.4,854.9 L592.8,856.9 L593.1,856.4 L593.5,857.0 L593.9,856.3 L594.2,856.7 L594.6,859.3 L595.0,860.5 L595.3,860.2 L595.7,859.8 L596.1,858.7 L596.4,859.7 L596.8,860.8 L597.2,861.6 L597.5,862.3 L597.9,861.9 L598.3,862.8 L598.6,863.6 L599.0,865.6 L599.3,867.5 L599.7,866.8 L600.0,865.9 L600.4,866.3 L600.8,866.1 L601.1,866.1 L601.5,866.9 L601.8,866.5 L602.2,868.2 L602.5,868.6 L602.9,869.4 L603.2,869.6 L603.6,869.3 L603.9,869.1 L604.3,869.8 L604.6,870.1 L605.0,871.3 L605.3,871.9 L605.6,871.0 L606.0,872.1 L606.3,871.4 L606.7,871.9 L607.0,872.7 L607.4,871.5 L607.7,873.2 L608.0,874.4 L608.4,875.0 L608.7,875.2 L609.0,875.5 L609.4,875.2 L609.7,876.0 L610.0,876.2 L610.4,877.2 L610.7,876.6 L611.0,877.9 L611.4,878.7 L611.7,879.1 L612.0,879.1 L612.4,880.3 L612.7,878.8 L613.0,880.3 L613.4,881.1 L613.7,881.8 L614.0,882.5 L614.3,881.8 L614.7,882.0 L615.0,883.3 L615.3,884.0 L615.6,884.2 L615.9,882.6 L616.3,884.0 L616.6,885.8 L616.9,886.8 L617.2,886.6 L617.5,884.5 L617.9,886.3 L618.2,886.2 L618.5,883.6 L618.8,885.4 L619.1,884.6 L619.4,884.4 L619.8,885.1 L620.1,887.8 L620.4,887.7 L620.7,888.5 L621.0,890.8 L621.3,892.2 L621.6,891.1 L621.9,890.3 L622.2,888.8 L622.5,888.7" stroke="#a0f000"/>
<path d="M124.4,578.4 L128.9,579.1 L133.3,579.7 L137.6,580.4 L141.7,581.0 L145.8,581.6 L149.7,582.1 L153.5,582.7 L157.3,583.2 L160.9,583.6 L164.5,584.0 L168.0,584.7 L171.4,585.4 L174.7,586.1 L178.0,586.8 L181.2,587.6 L184.3,588.2 L187.4,588.7 L190.4,589.1 L193.4,589.5 L196.3,590.0 L199.1,590.7 L201.9,591.2 L204.6,591.9 L207.3,592.6 L210.0,593.2 L212.6,593.6 L215.2,594.2 L217.7,594.8 L220.2,595.4 L222.6,595.8 L225.0,596.3 L227.4,596.7 L229.7,597.2 L232.0,597.9 L234.2,598.0 L236.5,598.5 L238.7,599.6 L240.8,600.4 L243.0,601.4 L245.1,601.8 L247.1,602.3 L249.2,602.5 L251.2,603.0 L253.2,603.7 L255.2,603.8 L257.1,604.4 L259.0,604.8 L260.9,605.3 L262.8,606.5 L264.7,607.2 L266.5,607.6 L268.3,608.4 L270.1,609.0 L271.8,609.2 L273.6,609.6 L275.3,609.7 L277.0,610.1 L278.7,610.5 L280.4,610.5 L282.0,610.7 L283.7,611.2 L285.3,612.1 L286.9,612.6 L288.5,613.4 L290.0,614.2 L291.6,615.1 L293.1,615.8 L294.7,615.9 L296.2,616.3 L297.7,617.2 L299.1,617.6 L300.6,618.4 L302.0,619.4 L303.5,620.5 L304.9,620.9 L306.3,620.9 L307.7,620.9 L309.1,621.0 L310.5,621.6 L311.8,622.3 L313.2,623.2 L314.5,624.3 L315.8,625.3 L317.1,626.2 L318.5,626.4 L319.7,626.7 L321.0,627.0 L322.3,627.6 L323.6,627.9 L324.8,628.4 L326.0,629.2 L327.3,629.7 L328.5,630.7 L329.7,631.2 L330.9,631.8 L332.1,631.9 L333.3,632.6 L334.4,632.6 L335.6,632.8 L336.8,633.6 L337.9,634.2 L339.1,635.1 L340.2,636.4 L341.3,636.6 L342.4,637.1 L343.5,637.9 L344.6,638.7 L345.7,639.3 L346.8,639.9 L347.9,640.8 L348.9,641.4 L350.0,641.6 L351.1,642.2 L352.1,642.9 L353.1,643.2 L354.2,644.0 L355.2,644.3 L356.2,645.3 L357.2,645.9 L358.2,646.5 L359.2,646.8 L360.2,647.4 L361.2,647.3 L362.2,647.7 L363.2,648.5 L364.1,648.4 L365.1,649.5 L366.0,649.5 L367.0,650.5 L367.9,650.7 L368.9,651.6 L369.8,652.2 L370.7,652.3 L371.6,653.6 L372.6,654.6 L373.5,655.0 L374.4,655.4 L375.3,655.9 L376.2,656.2 L377.1,657.2 L377.9,657.3 L378.8,657.6 L379.7,657.7 L380.6,657.9 L381.4,657.9 L382.3,659.0 L383.1,659.2 L384.0,660.0 L384.8,660.8 L385.7,661.5 L386.5,662.4 L387.3,662.9 L388.2,663.5 L389.0,663.9 L389.8,664.3 L390.6,664.3 L391.4,664.7 L392.2,666.1 L393.0,666.3 L393.8,666.4 L394.6,667.2 L395.4,668.4 L396.2,668.1 L397.0,668.6 L397.7,669.1 L398.5,669.6 L399.3,671.3 L400.1,672.5 L400.8,673.0 L401.6,673.0 L402.3,673.6 L403.1,673.7 L403.8,674.1 L404.6,674.1 L405.3,674.2 L406.0,675.5 L406.8,675.6 L407.5,676.2 L408.2,676.8 L408.9,677.3 L409.7,677.8 L410.4,678.9 L411.1,679.5 L411.8,680.1 L412.5,680.8 L413.2,681.7 L413.9,682.1 L414.6,682.4 L415.3,682.3 L416.0,682.1 L416.7,683.0 L417.4,683.9 L418.0,684.1 L418.7,684.8 L419.4,685.5 L420.1,686.2 L420.7,686.8 L421.4,686.8 L422.1,687.9 L422.7,687.5 L423.4,688.4 L424.0,689.0 L424.7,689.7 L425.3,690.8 L426.0,691.6 L426.6,690.9 L427.3,690.4 L427.9,691.4 L428.5,691.4 L429.2,692.0 L429.8,692.9 L430.4,692.5 L431.0,692.2 L431.7,693.3 L432.3,693.9 L432.9,694.4 L433.5,694.9 L434.1,695.0 L434.7,694.9 L435.3,695.6 L436.0,695.8 L436.6,695.8 L437.2,696.9 L437.8,697.5 L438.3,698.2 L438.9,698.1 L439.5,698.4 L440.1,698.6 L440.7,698.9 L441.3,699.7 L441.9,699.9 L442.5,700.7 L443.0,701.3 L443.6,702.6 L444.2,702.0 L444.8,702.8 L445.3,703.0 L445.9,703.3 L446.5,703.0 L447.0,703.4 L447.6,704.4 L448.1,704.8 L448.7,705.3 L449.3,705.6 L449.8,706.6 L450.4,706.8 L450.9,706.1 L451.5,706.5 L452.0,706.3 L452.5,705.8 L453.1,706.9 L453.6,708.7 L453.7,708.9 L454.6,709.2 L455.5,709.7 L456.4,711.3 L457.3,712.1 L458.2,712.8 L459.1,713.5 L460.0,714.3 L460.9,715.4 L461.8,716.2 L462.7,716.8 L463.5,716.9 L464.4,718.0 L465.3,718.3 L466.1,719.7 L467.0,719.6 L467.8,720.4 L468.6,721.3 L469.5,721.3 L470.3,723.3 L471.1,724.6 L471.9,724.6 L472.8,725.6 L473.6,726.2 L474.4,725.3 L475.2,726.5 L476.0,727.4 L476.8,728.2 L477.6,728.4 L478.4,729.2 L479.2,730.1 L479.9,731.6 L480.7,732.3 L481.5,732.8 L482.2,734.3 L483.0,734.3 L483.8,734.6 L484.5,734.2 L485.3,736.1 L486.0,737.2 L486.8,738.1 L487.5,739.8 L488.3,741.6 L489.0,741.6 L489.7,740.4 L490.5,739.8 L491.2,740.4 L491.9,741.9 L492.6,742.4 L493.3,742.6 L494.0,742.7 L494.8,742.9 L495.5,744.6 L496.2,745.2 L496.9,745.5 L497.6,745.7 L498.2,745.5 L498.9,746.3 L499.6,747.5 L500.3,747.8 L501.0,748.2 L501.7,748.6 L502.3,749.3 L503.0,748.9 L503.7,749.7 L504.3,750.0 L505.0,751.5 L505.7,751.5 L506.3,752.6 L507.0,754.0 L507.6,754.0 L508.3,754.0 L508.9,754.6 L509.6,755.1 L510.2,755.1 L510.8,756.2 L511.5,758.1 L512.1,758.0 L512.7,758.3 L513.4,758.1 L514.0,759.1 L514.6,759.0 L515.2,759.2 L515.8,761.1 L516.5,761.1 L517.1,762.5 L517.7,763.9 L518.3,764.2 L518.9,764.8 L519.5,766.2 L520.1,765.9 L520.7,765.7 L521.3,765.3 L521.9,766.2 L522.5,767.8 L523.1,768.7 L523.7,768.3 L524.2,768.3 L524.8,768.7 L525.4,769.7 L526.0,770.1 L526.6,770.9 L527.1,771.7 L527.7,771.9 L528.3,772.5 L528.8,773.2 L529.4,773.6 L530.0,774.5 L530.5,776.1 L531.1,776.4 L531.6,776.5 L532.2,775.7 L532.7,776.7 L533.3,776.0 L533.8,776.2 L534.4,777.8 L534.9,779.0 L535.5,779.3 L536.0,778.7 L536.6,779.4 L537.1,779.8 L537.6,781.1 L538.2,783.1 L538.7,783.2 L539.2,782.8 L539.8,782.5 L540.3,783.3 L540.8,783.8 L541.3,783.7 L541.9,784.7 L542.4,784.6 L542.9,786.2 L543.4,787.3 L543.9,788.2 L544.4,787.9 L544.9,788.6 L545.5,788.7 L546.0,788.9 L546.5,789.2 L547.0,789.0 L547.5,789.0 L548.0,790.5 L548.5,791.0 L549.0,791.7 L549.5,792.8 L550.0,792.0 L550.5,792.3 L550.9,793.2 L551.4,794.1 L551.9,794.3 L552.4,795.5 L552.9,795.9 L553.4,795.5 L553.9,795.6 L554.3,796.8 L554.8,797.5 L555.3,796.8 L555.8,798.4 L556.2,799.1 L556.7,800.1 L557.2,799.9 L557.7,800.0 L558.1,799.7 L558.6,801.8 L559.1,801.7 L559.5,802.8 L560.0,802.4 L560.4,802.8 L560.9,802.2 L561.4,802.7 L561.8,803.9 L562.3,803.6 L562.7,804.8 L563.2,805.3 L563.6,805.0 L564.1,805.3 L564.5,805.7 L565.0,806.3 L565.4,806.6 L565.9,806.7 L566.3,807.2 L566.8,807.3 L567.2,807.3 L567.7,808.2 L568.1,809.5 L568.5,809.0 L569.0,809.7 L569.4,809.9 L569.8,810.0 L570.3,811.3 L570.7,811.4 L571.1,812.8 L571.6,812.5 L572.0,813.1 L572.4,813.3 L572.8,813.2 L573.3,814.1 L573.7,814.3 L574.1,815.1 L574.5,815.3 L575.0,814.9 L575.4,815.5 L575.8,816.0 L576.2,817.0 L576.6,816.7 L577.0,817.1 L577.4,816.5 L577.9,817.7 L578.3,817.5 L578.7,817.1 L579.1,818.0 L579.5,819.4 L579.9,818.8 L580.3,818.8 L580.7,819.2 L581.1,819.3 L581.5,820.4 L581.9,820.5 L582.3,820.7 L582.7,821.8 L583.1,821.7 L583.5,822.5 L583.9,822.3 L584.3,822.1 L584.7,821.7 L585.1,824.0 L585.5,824.0 L585.9,824.6 L586.3,824.8 L586.7,825.2 L587.0,825.5 L587.4,827.0 L587.8,826.1 L588.2,825.4 L588.6,825.4 L589.0,825.3 L589.4,826.7 L589.7,827.8 L590.1,827.4 L590.5,827.0 L590.9,827.6 L591.3,829.3 L591.6,827.6 L592.0,828.9 L592.4,828.8 L592.8,830.3 L593.1,829.9 L593.5,830.3 L593.9,829.8 L594.2,830.1 L594.6,831.9 L595.0,832.8 L595.3,832.6 L595.7,832.3 L596.1,831.5 L596.4,832.2 L596.8,833.0 L597.2,833.5 L597.5,834.0 L597.9,833.7 L598.3,834.3 L598.6,834.9 L599.0,836.2 L599.3,837.6 L599.7,837.1 L600.0,836.5 L600.4,836.7 L600.8,836.6 L601.1,836.6 L601.5,837.1 L601.8,836.9 L602.2,838.0 L602.5,838.3 L602.9,838.8 L603.2,838.9 L603.6,838.7 L603.9,838.6 L604.3,839.1 L604.6,839.3 L605.0,840.0 L605.3,840.4 L605.6,839.8 L606.0,840.6 L606.3,840.1 L606.7,840.5 L607.0,841.0 L607.4,840.2 L607.7,841.3 L608.0,842.1 L608.4,842.5 L608.7,842.6 L609.0,842.8 L609.4,842.6 L609.7,843.1 L610.0,843.3 L610.4,843.9 L610.7,843.5 L611.0,844.4 L611.4,844.9 L611.7,845.1 L612.0,845.1 L612.4,845.9 L612.7,844.9 L613.0,845.9 L613.4,846.4 L613.7,846.8 L614.0,847.3 L614.3,846.9 L614.7,847.0 L615.0,847.8 L615.3,848.2 L615.6,848.3 L615.9,847.3 L616.3,848.2 L616.6,849.3 L616.9,849.9 L617.2,849.8 L617.5,848.5 L617.9,849.6 L618.2,849.6 L618.5,848.0 L618.8,849.1 L619.1,848.5 L619.4,848.4 L619.8,848.9 L620.1,850.6 L620.4,850.5 L620.7,851.0 L621.0,852.4 L621.3,853.2 L621.6,852.5 L621.9,852.1 L622.2,851.2 L622.5,851.1" stroke="#ffc800"/>
<path d="M124.4,577.1 L128.9,577.7 L133.3,578.4 L137.6,579.0 L141.7,579.7 L145.8,580.2 L149.7,580.8 L153.5,581.3 L157.3,581.8 L160.9,582.2 L164.5,582.6 L168.0,583.3 L171.4,584.0 L174.7,584.6 L178.0,585.4 L181.2,586.1 L184.3,586.7 L187.4,587.2 L190.4,587.6 L193.4,588.0 L196.3,588.4 L199.1,589.1 L201.9,589.7 L204.6,590.4 L207.3,591.0 L210.0,591.6 L212.6,592.0 L215.2,592.6 L217.7,593.2 L220.2,593.8 L222.6,594.2 L225.0,594.7 L227.4,595.1 L229.7,595.5 L232.0,596.2 L234.2,596.3 L236.5,596.8 L238.7,597.9 L240.8,598.7 L243.0,599.6 L245.1,600.0 L247.1,600.5 L249.2,600.7 L251.2,601.2 L253.2,601.9 L255.2,601.9 L257.1,602.5 L259.0,602.9 L260.9,603.4 L262.8,604.6 L264.7,605.3 L266.5,605.7 L268.3,606.4 L270.1,607.0 L271.8,607.2 L273.6,607.6 L275.3,607.8 L277.0,608.1 L278.7,608.5 L280.4,608.4 L282.0,608.7 L283.7,609.2 L285.3,610.0 L286.9,610.5 L288.5,611.3 L290.0,612.1 L291.6,613.0 L293.1,613.7 L294.7,613.8 L296.2,614.1 L297.7,615.0 L299.1,615.4 L300.6,616.2 L302.0,617.1 L303.5,618.2 L304.9,618.6 L306.3,618.6 L307.7,618.6 L309.1,618.7 L310.5,619.2 L311.8,620.0 L313.2,620.9 L314.5,621.9 L315.8,622.8 L317.1,623.8 L318.5,623.9 L319.7,624.3 L321.0,624.5 L322.3,625.1 L323.6,625.4 L324.8,625.9 L326.0,626.6 L327.3,627.1 L328.5,628.0 L329.7,628.6 L330.9,629.2 L332.1,629.3 L333.3,629.9 L334.4,629.9 L335.6,630.1 L336.8,630.9 L337.9,631.5 L339.1,632.3 L340.2,633.6 L341.3,633.8 L342.4,634.2 L343.5,635.0 L344.6,635.8 L345.7,636.4 L346.8,637.0 L347.9,637.8 L348.9,638.4 L350.0,638.6 L351.1,639.2 L352.1,639.8 L353.1,640.1 L354.2,640.9 L355.2,641.2 L356.2,642.2 L357.2,642.7 L358.2,643.3 L359.2,643.6 L360.2,644.1 L361.2,644.1 L362.2,644.4 L363.2,645.2 L364.1,645.1 L365.1,646.2 L366.0,646.2 L367.0,647.1 L367.9,647.3 L368.9,648.2 L369.8,648.8 L370.7,648.8 L371.6,650.0 L372.6,651.1 L373.5,651.4 L374.4,651.8 L375.3,652.3 L376.2,652.6 L377.1,653.5 L377.9,653.6 L378.8,653.9 L379.7,654.0 L380.6,654.2 L381.4,654.2 L382.3,655.2 L383.1,655.4 L384.0,656.2 L384.8,657.0 L385.7,657.6 L386.5,658.5 L387.3,658.9 L388.2,659.5 L389.0,659.8 L389.8,660.3 L390.6,660.3 L391.4,660.7 L392.2,662.0 L393.0,662.1 L393.8,662.3 L394.6,663.1 L395.4,664.1 L396.2,663.9 L397.0,664.4 L397.7,664.8 L398.5,665.3 L399.3,666.9 L400.1,668.0 L400.8,668.5 L401.6,668.5 L402.3,669.1 L403.1,669.2 L403.8,669.5 L404.6,669.5 L405.3,669.6 L406.0,670.8 L406.8,670.9 L407.5,671.5 L408.2,672.0 L408.9,672.5 L409.7,673.0 L410.4,674.1 L411.1,674.6 L411.8,675.2 L412.5,675.8 L413.2,676.6 L413.9,677.1 L414.6,677.3 L415.3,677.2 L416.0,677.0 L416.7,677.9 L417.4,678.7 L418.0,678.9 L418.7,679.5 L419.4,680.2 L420.1,680.8 L420.7,681.4 L421.4,681.4 L422.1,682.4 L422.7,682.0 L423.4,682.9 L424.0,683.5 L424.7,684.1 L425.3,685.2 L426.0,685.8 L426.6,685.2 L427.3,684.8 L427.9,685.7 L428.5,685.7 L429.2,686.2 L429.8,687.1 L430.4,686.7 L431.0,686.4 L431.7,687.4 L432.3,688.0 L432.9,688.4 L433.5,688.9 L434.1,689.0 L434.7,688.9 L435.3,689.6 L436.0,689.8 L436.6,689.8 L437.2,690.8 L437.8,691.3 L438.3,691.9 L438.9,691.9 L439.5,692.1 L440.1,692.3 L440.7,692.6 L441.3,693.3 L441.9,693.5 L442.5,694.2 L443.0,694.8 L443.6,696.0 L444.2,695.4 L444.8,696.2 L445.3,696.3 L445.9,696.6 L446.5,696.3 L447.0,696.8 L447.6,697.7 L448.1,698.0 L448.7,698.5 L449.3,698.7 L449.8,699.7 L450.4,699.9 L450.9,699.2 L451.5,699.6 L452.0,699.4 L452.5,698.9 L453.1,700.0 L453.6,701.6 L453.7,701.8 L454.6,702.0 L455.5,702.5 L456.4,704.0 L457.3,704.7 L458.2,705.3 L459.1,705.9 L460.0,706.6 L460.9,707.6 L461.8,708.4 L462.7,708.9 L463.5,709.0 L464.4,709.9 L465.3,710.2 L466.1,711.5 L467.0,711.4 L467.8,712.2 L468.6,712.9 L469.5,713.0 L470.3,714.7 L471.1,715.9 L471.9,715.9 L472.8,716.8 L473.6,717.3 L474.4,716.5 L475.2,717.6 L476.0,718.4 L476.8,719.1 L477.6,719.3 L478.4,720.0 L479.2,720.7 L479.9,722.1 L480.7,722.7 L481.5,723.2 L482.2,724.5 L483.0,724.4 L483.8,724.7 L484.5,724.4 L485.3,726.1 L486.0,727.0 L486.8,727.8 L487.5,729.3 L488.3,730.9 L489.0,730.9 L489.7,729.8 L490.5,729.3 L491.2,729.8 L491.9,731.1 L492.6,731.6 L493.3,731.7 L494.0,731.8 L494.8,732.0 L495.5,733.4 L496.2,733.9 L496.9,734.2 L497.6,734.3 L498.2,734.2 L498.9,734.9 L499.6,736.0 L500.3,736.2 L501.0,736.5 L501.7,736.9 L502.3,737.5 L503.0,737.2 L503.7,737.8 L504.3,738.1 L505.0,739.3 L505.7,739.4 L506.3,740.3 L507.0,741.5 L507.6,741.4 L508.3,741.4 L508.9,742.0 L509.6,742.4 L510.2,742.4 L510.8,743.3 L511.5,744.9 L512.1,744.9 L512.7,745.1 L513.4,745.0 L514.0,745.8 L514.6,745.7 L515.2,745.9 L515.8,747.4 L516.5,747.4 L517.1,748.6 L517.7,749.8 L518.3,750.0 L518.9,750.5 L519.5,751.7 L520.1,751.4 L520.7,751.3 L521.3,751.0 L521.9,751.7 L522.5,753.0 L523.1,753.7 L523.7,753.4 L524.2,753.4 L524.8,753.7 L525.4,754.5 L526.0,754.9 L526.6,755.5 L527.1,756.1 L527.7,756.4 L528.3,756.8 L528.8,757.4 L529.4,757.7 L530.0,758.4 L530.5,759.7 L531.1,760.0 L531.6,760.1 L532.2,759.4 L532.7,760.2 L533.3,759.7 L533.8,759.8 L534.4,761.1 L534.9,762.0 L535.5,762.3 L536.0,761.9 L536.6,762.4 L537.1,762.7 L537.6,763.7 L538.2,765.3 L538.7,765.4 L539.2,765.1 L539.8,764.9 L540.3,765.5 L540.8,765.9 L541.3,765.8 L541.9,766.6 L542.4,766.5 L542.9,767.8 L543.4,768.6 L543.9,769.3 L544.4,769.1 L544.9,769.6 L545.5,769.7 L546.0,769.9 L546.5,770.1 L547.0,769.9 L547.5,769.9 L548.0,771.1 L548.5,771.5 L549.0,772.1 L549.5,772.9 L550.0,772.3 L550.5,772.5 L550.9,773.2 L551.4,773.9 L551.9,774.1 L552.4,774.9 L552.9,775.2 L553.4,774.9 L553.9,775.0 L554.3,775.9 L554.8,776.5 L555.3,775.9 L555.8,777.1 L556.2,777.6 L556.7,778.4 L557.2,778.3 L557.7,778.3 L558.1,778.2 L558.6,779.7 L559.1,779.6 L559.5,780.5 L560.0,780.2 L560.4,780.4 L560.9,780.0 L561.4,780.3 L561.8,781.3 L562.3,781.0 L562.7,781.9 L563.2,782.3 L563.6,782.1 L564.1,782.3 L564.5,782.6 L565.0,783.0 L565.4,783.2 L565.9,783.3 L566.3,783.7 L566.8,783.8 L567.2,783.8 L567.7,784.4 L568.1,785.3 L568.5,785.0 L569.0,785.5 L569.4,785.7 L569.8,785.7 L570.3,786.7 L570.7,786.7 L571.1,787.8 L571.6,787.5 L572.0,788.0 L572.4,788.1 L572.8,788.0 L573.3,788.7 L573.7,788.9 L574.1,789.4 L574.5,789.5 L575.0,789.3 L575.4,789.6 L575.8,790.0 L576.2,790.8 L576.6,790.5 L577.0,790.8 L577.4,790.4 L577.9,791.2 L578.3,791.1 L578.7,790.8 L579.1,791.4 L579.5,792.5 L579.9,792.0 L580.3,792.0 L580.7,792.3 L581.1,792.3 L581.5,793.1 L581.9,793.2 L582.3,793.3 L582.7,794.1 L583.1,794.0 L583.5,794.6 L583.9,794.4 L584.3,794.3 L584.7,794.0 L585.1,795.6 L585.5,795.6 L585.9,796.0 L586.3,796.2 L586.7,796.5 L587.0,796.7 L587.4,797.7 L587.8,797.1 L588.2,796.6 L588.6,796.6 L589.0,796.5 L589.4,797.5 L589.7,798.2 L590.1,797.9 L590.5,797.7 L590.9,798.1 L591.3,799.2 L591.6,798.1 L592.0,799.0 L592.4,798.9 L592.8,799.9 L593.1,799.6 L593.5,799.9 L593.9,799.6 L594.2,799.7 L594.6,800.9 L595.0,801.5 L595.3,801.4 L595.7,801.2 L596.1,800.7 L596.4,801.1 L596.8,801.7 L597.2,802.0 L597.5,802.3 L597.9,802.1 L598.3,802.5 L598.6,802.9 L599.0,803.8 L599.3,804.6 L599.7,804.3 L600.0,803.9 L600.4,804.1 L600.8,804.0 L601.1,804.0 L601.5,804.4 L601.8,804.2 L602.2,804.9 L602.5,805.1 L602.9,805.4 L603.2,805.5 L603.6,805.4 L603.9,805.3 L604.3,805.6 L604.6,805.7 L605.0,806.2 L605.3,806.5 L605.6,806.1 L606.0,806.6 L606.3,806.3 L606.7,806.5 L607.0,806.9 L607.4,806.3 L607.7,807.0 L608.0,807.6 L608.4,807.8 L608.7,807.9 L609.0,808.0 L609.4,807.9 L609.7,808.2 L610.0,808.3 L610.4,808.7 L610.7,808.4 L611.0,809.0 L611.4,809.3 L611.7,809.4 L612.0,809.4 L612.4,809.9 L612.7,809.3 L613.0,809.9 L613.4,810.3 L613.7,810.5 L614.0,810.8 L614.3,810.5 L614.7,810.6 L615.0,811.1 L615.3,811.3 L615.6,811.4 L615.9,810.8 L616.3,811.4 L616.6,812.0 L616.9,812.4 L617.2,812.3 L617.5,811.6 L617.9,812.2 L618.2,812.2 L618.5,811.2 L618.8,811.9 L619.1,811.6 L619.4,811.5 L619.8,811.8 L620.1,812.8 L620.4,812.8 L620.7,813.0 L621.0,813.9 L621.3,814.4 L621.6,814.0 L621.9,813.7 L622.2,813.2 L622.5,813.1" stroke="#ff7000"/>
</g>
<g fill="none">
<path d="M99.6,567.2 V1008.6" stroke="#000" stroke-width="2.1"/>
<path d="M98.6,568.2 H623.6" stroke="#000" stroke-width="2.1"/>
<path d="M622.55,567.2 V1005.6" stroke="#000" stroke-width="2.2"/>
<path d="M94.6,1004.6 H623.6" stroke="#000" stroke-width="2.1"/>
<path d="M99.6,1004.6 v4 M453.7,1004.6 v4 M453.7,568.3 v4.5 M94.6,1004.5 h5 M618.5,1004.5 h4 M94.6,830.8 h5 M618.5,830.8 h4 M94.6,657.1 h5 M618.5,657.1 h4" stroke="#000" stroke-width="1.7"/>
<path d="M206.2,1004.6 v2.6 M206.2,568.3 v3 M268.5,1004.6 v2.6 M268.5,568.3 v3 M312.8,1004.6 v2.6 M312.8,568.3 v3 M347.1,1004.6 v2.6 M347.1,568.3 v3 M375.1,1004.6 v2.6 M375.1,568.3 v3 M398.8,1004.6 v2.6 M398.8,568.3 v3 M419.4,1004.6 v2.6 M419.4,568.3 v3 M437.5,1004.6 v2.6 M437.5,568.3 v3 M560.3,1004.6 v2.6 M560.3,568.3 v3 M622.6,1004.6 v2.6 M622.6,568.3 v3 M97,952.2 h2.5 M620.3,952.2 h2.3 M97,921.6 h2.5 M620.3,921.6 h2.3 M97,899.9 h2.5 M620.3,899.9 h2.3 M97,883.1 h2.5 M620.3,883.1 h2.3 M97,869.3 h2.5 M620.3,869.3 h2.3 M97,857.7 h2.5 M620.3,857.7 h2.3 M97,847.6 h2.5 M620.3,847.6 h2.3 M97,838.7 h2.5 M620.3,838.7 h2.3 M97,778.5 h2.5 M620.3,778.5 h2.3 M97,747.9 h2.5 M620.3,747.9 h2.3 M97,726.2 h2.5 M620.3,726.2 h2.3 M97,709.4 h2.5 M620.3,709.4 h2.3 M97,695.6 h2.5 M620.3,695.6 h2.3 M97,684.0 h2.5 M620.3,684.0 h2.3 M97,673.9 h2.5 M620.3,673.9 h2.3 M97,665.0 h2.5 M620.3,665.0 h2.3 M97,604.8 h2.5 M620.3,604.8 h2.3 M97,574.2 h2.5 M620.3,574.2 h2.3" stroke="#000" stroke-width="1.4"/>
</g>
<g font-family="Liberation Sans, Arial, sans-serif" font-size="21.5" fill="#000" text-anchor="end">
<text x="91.6" y="1011.9">1</text>
<text x="91.6" y="838.2">10</text>
<text x="91.6" y="664.5">100</text>
</g>
<g font-family="Liberation Sans, Arial, sans-serif" font-size="21.5" fill="#000" text-anchor="middle">
<text x="99.8" y="1028.7">10</text><text x="454.3" y="1028.7">100</text>
</g>
<path d="M119.5,754 H167.5" stroke="#3300ff" stroke-width="3" stroke-linecap="round" fill="none"/>
<text x="173.7" y="761.4" font-family="Liberation Sans, Arial, sans-serif" font-size="21.5" fill="#000">-10</text>
<path d="M119.5,780.6 H167.5" stroke="#0044ff" stroke-width="3" stroke-linecap="round" fill="none"/>
<text x="173.7" y="788.0" font-family="Liberation Sans, Arial, sans-serif" font-size="21.5" fill="#000">-5</text>
<path d="M119.5,807.3 H167.5" stroke="#00a0ff" stroke-width="3" stroke-linecap="round" fill="none"/>
<text x="173.7" y="814.7" font-family="Liberation Sans, Arial, sans-serif" font-size="21.5" fill="#000">-2</text>
<path d="M119.5,834 H167.5" stroke="#00eeff" stroke-width="3" stroke-linecap="round" fill="none"/>
<text x="173.7" y="841.4" font-family="Liberation Sans, Arial, sans-serif" font-size="21.5" fill="#000">-1</text>
<path d="M119.5,860.7 H167.5" stroke="#00ff80" stroke-width="3" stroke-linecap="round" fill="none"/>
<text x="173.7" y="868.1" font-family="Liberation Sans, Arial, sans-serif" font-size="21.5" fill="#000">0</text>
<path d="M119.5,887.3 H167.5" stroke="#10ff00" stroke-width="3" stroke-linecap="round" fill="none"/>
<text x="173.7" y="894.7" font-family="Liberation Sans, Arial, sans-serif" font-size="21.5" fill="#000">1</text>
<path d="M119.5,914 H167.5" stroke="#a0f000" stroke-width="3" stroke-linecap="round" fill="none"/>
<text x="173.7" y="921.4" font-family="Liberation Sans, Arial, sans-serif" font-size="21.5" fill="#000">2</text>
<path d="M119.5,940.6 H167.5" stroke="#ffc800" stroke-width="3" stroke-linecap="round" fill="none"/>
<text x="173.7" y="948.0" font-family="Liberation Sans, Arial, sans-serif" font-size="21.5" fill="#000">5</text>
<path d="M119.5,967.2 H167.5" stroke="#ff7000" stroke-width="3" stroke-linecap="round" fill="none"/>
<text x="173.7" y="974.6" font-family="Liberation Sans, Arial, sans-serif" font-size="21.5" fill="#000">10</text>
<text y="731.4" font-family="Liberation Serif, Times New Roman, serif" font-size="23" fill="#1a1a1a"><tspan x="133" font-style="italic">m</tspan><tspan font-size="16" dy="4">0</tspan></text>
<text transform="translate(166,731.4) scale(1.3,1)" font-family="Liberation Serif, Times New Roman, serif" font-size="23" fill="#1a1a1a">=</text>
<g transform="translate(25.4,836) rotate(-90)" font-family="Liberation Serif, Times New Roman, serif" fill="#1a1a1a"><text transform="translate(-2,0) scale(1,1.157)" font-size="26">|</text><text transform="translate(3.8,0) scale(1.05,1)" font-size="26" font-style="italic">m</text><text x="27.4" y="-13.6" font-size="18.5" font-style="italic">B<tspan font-size="14.5" dy="3">2g</tspan></text><text x="27.4" y="6.6" font-size="18.5" font-style="italic">B<tspan font-size="14.5" dy="3">2g</tspan></text><text transform="translate(65,2.2) scale(1.13,1)" font-size="26">−</text><text transform="translate(89.9,0) scale(1.05,1)" font-size="26" font-style="italic">m</text><text x="109.2" y="4.1" font-size="18">0</text><text transform="translate(121.6,0) scale(1,1.157)" font-size="26">|</text></g>
</svg>
</body></html>
